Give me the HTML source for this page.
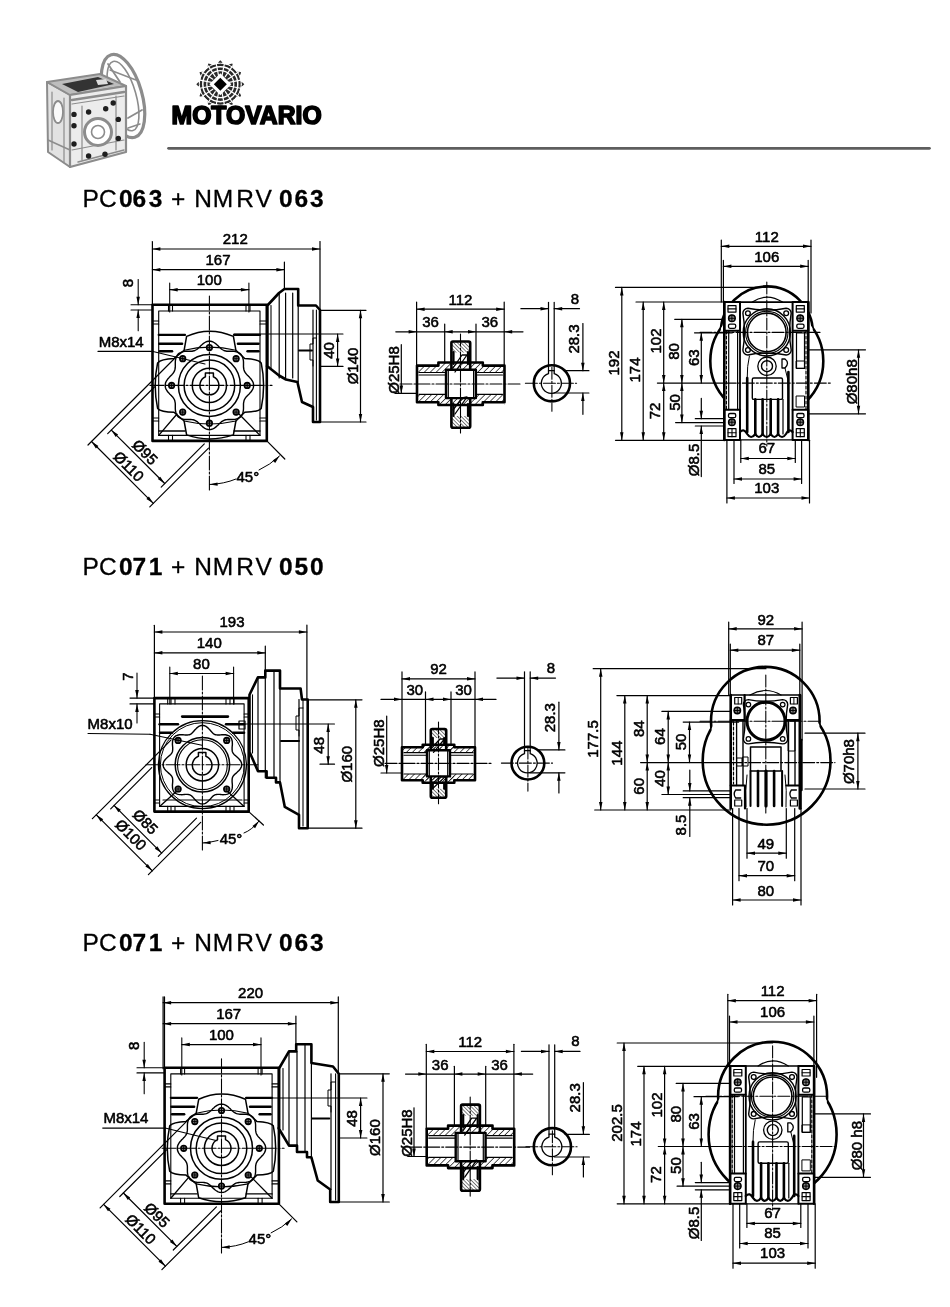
<!DOCTYPE html>
<html><head><meta charset="utf-8"><style>
html,body{margin:0;padding:0;background:#fff;}
body{width:950px;height:1307px;overflow:hidden;}
svg{display:block;will-change:transform;}
text{font-family:"Liberation Sans",sans-serif;fill:#000;stroke:#000;stroke-width:0.55px;}
</style></head><body>
<svg width="950" height="1307" viewBox="0 0 950 1307" stroke="#000" stroke-linecap="round" stroke-linejoin="round" fill="none">
<rect x="0" y="0" width="950" height="1307" fill="#fff" stroke="none"/>
<g stroke="#8c8c8c" fill="none">
<ellipse cx="123" cy="96" rx="19" ry="43" transform="rotate(-16 123 96)" stroke-width="3.2"/>
<ellipse cx="123" cy="96" rx="13" ry="36" transform="rotate(-16 123 96)" stroke-width="1.6"/>
<line x1="108" y1="64" x2="120" y2="82" stroke-width="1.8"/>
<line x1="128" y1="118" x2="142" y2="110" stroke-width="1.8"/>
<line x1="110" y1="70" x2="136" y2="80" stroke-width="1.4"/>
<line x1="128" y1="128" x2="140" y2="124" stroke-width="1.4"/>
<polygon points="47,82 70,95 70,167 48,152" stroke-width="2" fill="#e2e2e2"/>
<polygon points="47,82 100,74 126,86 70,95" stroke-width="2" fill="#bdbdbd"/>
<polygon points="70,95 126,86 126,152 70,167" stroke-width="2.2" fill="#ececec"/>
<ellipse cx="58" cy="112" rx="5" ry="11" stroke-width="1.8" fill="#fafafa"/>
<line x1="48" y1="140" x2="70" y2="150" stroke-width="1.5"/>
<line x1="72" y1="100" x2="124" y2="92" stroke-width="2.5"/>
<line x1="72" y1="104" x2="124" y2="96" stroke-width="1.2"/>
<line x1="52" y1="92" x2="52" y2="150" stroke-width="1.2"/>
<line x1="64" y1="98" x2="64" y2="162" stroke-width="1.2"/>
<circle cx="98" cy="132" r="13.5" stroke-width="3" fill="#fff"/>
<circle cx="98" cy="132" r="6.5" stroke-width="1.6" fill="none"/>
<line x1="72" y1="150" x2="124" y2="140" stroke-width="1.2"/>
<line x1="78" y1="162" x2="124" y2="150" stroke-width="1.4"/>
<line x1="82" y1="106" x2="82" y2="160" stroke-width="1.2"/>
<line x1="116" y1="96" x2="116" y2="150" stroke-width="1.2"/>
</g>
<g fill="#333" stroke="none"><path d="M62,84 L98,77 L114,84 L78,92 Z"/><path d="M96,80 L106,79 L108,84 L98,85 Z" fill="#ddd"/></g>
<circle cx="88.6" cy="112" r="2.7" stroke-width="0" fill="#1e1e1e" stroke="none"/>
<circle cx="105.7" cy="108.7" r="2.7" stroke-width="0" fill="#1e1e1e" stroke="none"/>
<circle cx="74" cy="114.4" r="2.7" stroke-width="0" fill="#1e1e1e" stroke="none"/>
<circle cx="74" cy="125.8" r="2.7" stroke-width="0" fill="#1e1e1e" stroke="none"/>
<circle cx="118.3" cy="119.4" r="2.7" stroke-width="0" fill="#1e1e1e" stroke="none"/>
<circle cx="74" cy="144" r="2.7" stroke-width="0" fill="#1e1e1e" stroke="none"/>
<circle cx="118.3" cy="138.4" r="2.7" stroke-width="0" fill="#1e1e1e" stroke="none"/>
<circle cx="88.6" cy="156" r="2.7" stroke-width="0" fill="#1e1e1e" stroke="none"/>
<circle cx="105" cy="154.2" r="2.7" stroke-width="0" fill="#1e1e1e" stroke="none"/>
<circle cx="113.2" cy="103" r="2.7" stroke-width="0" fill="#1e1e1e" stroke="none"/>
<polygon points="220.3,60.2 221.8,61.7 223,63.9 224.3,64.1 225.6,64.4 226.9,64.8 228.1,65.3 230.3,64 232.3,63.4 232.8,65.5 232.8,67.9 233.8,68.8 234.8,69.7 235.7,70.7 236.6,71.7 239,71.7 241.1,72.2 240.5,74.2 239.2,76.4 239.7,77.6 240.1,78.9 240.4,80.2 240.6,81.5 242.8,82.7 244.3,84.2 242.8,85.7 240.6,86.9 240.4,88.2 240.1,89.5 239.7,90.8 239.2,92 240.5,94.2 241.1,96.2 239,96.7 236.6,96.7 235.7,97.7 234.8,98.7 233.8,99.6 232.8,100.5 232.8,102.9 232.3,105 230.3,104.4 228.1,103.1 226.9,103.6 225.6,104 224.3,104.3 223,104.5 221.8,106.7 220.3,108.2 218.8,106.7 217.6,104.5 216.3,104.3 215,104 213.7,103.6 212.5,103.1 210.3,104.4 208.3,105 207.8,102.9 207.8,100.5 206.8,99.6 205.8,98.7 204.9,97.7 204,96.7 201.6,96.7 199.5,96.2 200.1,94.2 201.4,92 200.9,90.8 200.5,89.5 200.2,88.2 200,86.9 197.8,85.7 196.3,84.2 197.8,82.7 200,81.5 200.2,80.2 200.5,78.9 200.9,77.6 201.4,76.4 200.1,74.2 199.5,72.2 201.6,71.7 204,71.7 204.9,70.7 205.8,69.7 206.8,68.8 207.8,67.9 207.8,65.5 208.3,63.4 210.3,64 212.5,65.3 213.7,64.8 215,64.4 216.3,64.1 217.6,63.9 218.8,61.7" stroke-width="0" fill="#2a2a2a" stroke="none"/>
<g stroke="#fff" fill="none">
<circle cx="220.3" cy="84.2" r="17.5" stroke-width="1.5" fill="none"/>
<circle cx="220.3" cy="84.2" r="13.5" stroke-width="1.3" fill="none"/>
<circle cx="220.3" cy="84.2" r="21" stroke-width="1.0" fill="none"/>
<line x1="229.1" y1="86" x2="241.9" y2="88.5" stroke-width="1.2"/>
<line x1="227.8" y1="89.2" x2="238.6" y2="96.4" stroke-width="1.2"/>
<line x1="225.3" y1="91.7" x2="232.5" y2="102.5" stroke-width="1.2"/>
<line x1="222.1" y1="93" x2="224.6" y2="105.8" stroke-width="1.2"/>
<line x1="218.5" y1="93" x2="216" y2="105.8" stroke-width="1.2"/>
<line x1="215.3" y1="91.7" x2="208.1" y2="102.5" stroke-width="1.2"/>
<line x1="212.8" y1="89.2" x2="202" y2="96.4" stroke-width="1.2"/>
<line x1="211.5" y1="86" x2="198.7" y2="88.5" stroke-width="1.2"/>
<line x1="211.5" y1="82.4" x2="198.7" y2="79.9" stroke-width="1.2"/>
<line x1="212.8" y1="79.2" x2="202" y2="72" stroke-width="1.2"/>
<line x1="215.3" y1="76.7" x2="208.1" y2="65.9" stroke-width="1.2"/>
<line x1="218.5" y1="75.4" x2="216" y2="62.6" stroke-width="1.2"/>
<line x1="222.1" y1="75.4" x2="224.6" y2="62.6" stroke-width="1.2"/>
<line x1="225.3" y1="76.7" x2="232.5" y2="65.9" stroke-width="1.2"/>
<line x1="227.8" y1="79.2" x2="238.6" y2="72" stroke-width="1.2"/>
<line x1="229.1" y1="82.4" x2="241.9" y2="79.9" stroke-width="1.2"/>
</g>
<polygon points="220.3,73.2 231.3,84.2 220.3,95.2 209.3,84.2" stroke-width="0" fill="#fff" stroke="none"/>
<polygon points="220.3,77.7 226.8,84.2 220.3,90.7 213.8,84.2" stroke-width="0" fill="#000" stroke="none"/>
<text x="171.6" y="123.6" font-size="25" text-anchor="start" font-weight="bold" style="stroke-width:1.7px" textLength="150" lengthAdjust="spacingAndGlyphs">MOTOVARIO</text>
<line x1="168.5" y1="148.3" x2="929.5" y2="148.3" stroke-width="2.7" stroke="#5e5e5e"/>
<text y="206.8" font-size="24.5" style="stroke-width:0.3px"><tspan x="82.6 99.1">PC</tspan><tspan x="118.9 132.6 148.8" font-weight="bold">063</tspan><tspan x="170.9">+</tspan><tspan x="194.2 212.8 236.3 255.5">NMRV</tspan><tspan x="279 294.5 310.1" font-weight="bold">063</tspan></text>
<text y="574.5" font-size="24.5" style="stroke-width:0.3px"><tspan x="82.6 99.1">PC</tspan><tspan x="118.9 132.6 148.8" font-weight="bold">071</tspan><tspan x="170.9">+</tspan><tspan x="194.2 212.8 236.3 255.5">NMRV</tspan><tspan x="279 294.5 310.1" font-weight="bold">050</tspan></text>
<text y="951.0" font-size="24.5" style="stroke-width:0.3px"><tspan x="82.6 99.1">PC</tspan><tspan x="118.9 132.6 148.8" font-weight="bold">071</tspan><tspan x="170.9">+</tspan><tspan x="194.2 212.8 236.3 255.5">NMRV</tspan><tspan x="279 294.5 310.1" font-weight="bold">063</tspan></text>
<g transform="translate(0,0)">
<rect x="152.5" y="304.8" width="114.3" height="136.1" stroke-width="2.6" fill="none" rx="0"/>
<rect x="158.7" y="311" width="101.3" height="124.4" stroke-width="1.1" fill="none" rx="0"/>
<line x1="168.5" y1="304.8" x2="168.5" y2="311" stroke-width="1.08"/>
<line x1="168.5" y1="435.4" x2="168.5" y2="440.9" stroke-width="1.08"/>
<line x1="172.5" y1="304.8" x2="172.5" y2="311" stroke-width="1.08"/>
<line x1="172.5" y1="435.4" x2="172.5" y2="440.9" stroke-width="1.08"/>
<line x1="246" y1="304.8" x2="246" y2="311" stroke-width="1.08"/>
<line x1="246" y1="435.4" x2="246" y2="440.9" stroke-width="1.08"/>
<line x1="250" y1="304.8" x2="250" y2="311" stroke-width="1.08"/>
<line x1="250" y1="435.4" x2="250" y2="440.9" stroke-width="1.08"/>
<line x1="152.5" y1="321" x2="158.7" y2="321" stroke-width="1.08"/>
<line x1="152.5" y1="324" x2="158.7" y2="324" stroke-width="1.08"/>
<line x1="260" y1="321" x2="266.8" y2="321" stroke-width="1.08"/>
<line x1="260" y1="324" x2="266.8" y2="324" stroke-width="1.08"/>
<line x1="152.5" y1="418" x2="158.7" y2="418" stroke-width="1.08"/>
<line x1="152.5" y1="421" x2="158.7" y2="421" stroke-width="1.08"/>
<line x1="260" y1="418" x2="266.8" y2="418" stroke-width="1.08"/>
<line x1="260" y1="421" x2="266.8" y2="421" stroke-width="1.08"/>
<line x1="158.7" y1="334.9" x2="185" y2="334.9" stroke-width="2.2"/>
<line x1="234" y1="334.9" x2="260" y2="334.9" stroke-width="2.2"/>
<line x1="159.4" y1="343.8" x2="182" y2="343.8" stroke-width="2.6"/>
<line x1="238" y1="343.8" x2="258.5" y2="343.8" stroke-width="2.6"/>
<line x1="160" y1="351.3" x2="172" y2="351.3" stroke-width="2.6"/>
<line x1="247.6" y1="351.3" x2="258.5" y2="351.3" stroke-width="2.6"/>
<line x1="158.7" y1="431" x2="185" y2="431" stroke-width="1.32"/>
<line x1="234" y1="431" x2="260" y2="431" stroke-width="1.32"/>
<line x1="158.7" y1="435.4" x2="177" y2="414" stroke-width="1.32"/>
<line x1="260" y1="435.4" x2="239" y2="414" stroke-width="1.32"/>
<line x1="158.7" y1="311" x2="172" y2="355" stroke-width="0"/>
<path d="M184.1,350.3 L186.6,336.4 Q209.4,326 233.4,336.4 L235.9,350.3 L244.7,358.5 Q258,359 261.2,362.9 Q266,385.4 261.2,408.4 Q258,412 244.7,412.2 L235.9,421 L233.4,434.9 Q209.4,443 186.6,434.9 L184.1,421 L174,412.2 Q161,412 157.6,408.4 Q152.8,385.4 157.6,362.9 Q161,359 174,358.5 Z" stroke-width="1.5" fill="none"/>
<path d="M184.1,350.3 Q209.4,344 235.9,350.3" stroke-width="1.1" fill="none"/>
<path d="M184.1,421 Q209.4,427 235.9,421" stroke-width="1.1" fill="none"/>
<path d="M253.6,385.4 L253.5,386.6 L253.3,387.7 L252.9,388.8 L252.3,389.9 L251.6,391 L250.9,392 L250,392.9 L249.2,393.9 L248.3,394.7 L247.5,395.6 L246.7,396.4 L245.9,397.3 L245.3,398.1 L244.8,399 L244.3,399.9 L244,400.8 L243.8,401.8 L243.6,402.8 L243.5,403.9 L243.5,405.1 L243.5,406.3 L243.5,407.5 L243.5,408.8 L243.4,410.1 L243.2,411.3 L242.9,412.5 L242.5,413.7 L242,414.8 L241.4,415.8 L240.7,416.7 L239.8,417.4 L238.8,418 L237.7,418.5 L236.5,418.9 L235.3,419.2 L234.1,419.4 L232.8,419.5 L231.5,419.5 L230.3,419.5 L229.1,419.5 L227.9,419.5 L226.8,419.6 L225.8,419.8 L224.8,420 L223.9,420.3 L223,420.8 L222.1,421.3 L221.3,421.9 L220.4,422.7 L219.6,423.5 L218.7,424.3 L217.9,425.2 L216.9,426 L216,426.9 L215,427.6 L213.9,428.3 L212.8,428.9 L211.7,429.3 L210.6,429.5 L209.4,429.6 L208.2,429.5 L207.1,429.3 L206,428.9 L204.9,428.3 L203.8,427.6 L202.8,426.9 L201.9,426 L200.9,425.2 L200.1,424.3 L199.2,423.5 L198.4,422.7 L197.5,421.9 L196.7,421.3 L195.8,420.8 L194.9,420.3 L194,420 L193,419.8 L192,419.6 L190.9,419.5 L189.7,419.5 L188.5,419.5 L187.3,419.5 L186,419.5 L184.7,419.4 L183.5,419.2 L182.3,418.9 L181.1,418.5 L180,418 L179,417.4 L178.1,416.7 L177.4,415.8 L176.8,414.8 L176.3,413.7 L175.9,412.5 L175.6,411.3 L175.4,410.1 L175.3,408.8 L175.3,407.5 L175.3,406.3 L175.3,405.1 L175.3,403.9 L175.2,402.8 L175,401.8 L174.8,400.8 L174.5,399.9 L174,399 L173.5,398.1 L172.9,397.3 L172.1,396.4 L171.3,395.6 L170.5,394.7 L169.6,393.9 L168.8,392.9 L167.9,392 L167.2,391 L166.5,389.9 L165.9,388.8 L165.5,387.7 L165.3,386.6 L165.2,385.4 L165.3,384.2 L165.5,383.1 L165.9,382 L166.5,380.9 L167.2,379.8 L167.9,378.8 L168.8,377.9 L169.6,376.9 L170.5,376.1 L171.3,375.2 L172.1,374.4 L172.9,373.5 L173.5,372.7 L174,371.8 L174.5,370.9 L174.8,370 L175,369 L175.2,368 L175.3,366.9 L175.3,365.7 L175.3,364.5 L175.3,363.3 L175.3,362 L175.4,360.7 L175.6,359.5 L175.9,358.3 L176.3,357.1 L176.8,356 L177.4,355 L178.1,354.1 L179,353.4 L180,352.8 L181.1,352.3 L182.3,351.9 L183.5,351.6 L184.7,351.4 L186,351.3 L187.3,351.3 L188.5,351.3 L189.7,351.3 L190.9,351.3 L192,351.2 L193,351 L194,350.8 L194.9,350.5 L195.8,350 L196.7,349.5 L197.5,348.9 L198.4,348.1 L199.2,347.3 L200.1,346.5 L200.9,345.6 L201.9,344.8 L202.8,343.9 L203.8,343.2 L204.9,342.5 L206,341.9 L207.1,341.5 L208.2,341.3 L209.4,341.2 L210.6,341.3 L211.7,341.5 L212.8,341.9 L213.9,342.5 L215,343.2 L216,343.9 L216.9,344.8 L217.9,345.6 L218.7,346.5 L219.6,347.3 L220.4,348.1 L221.3,348.9 L222.1,349.5 L223,350 L223.9,350.5 L224.8,350.8 L225.8,351 L226.8,351.2 L227.9,351.3 L229.1,351.3 L230.3,351.3 L231.5,351.3 L232.8,351.3 L234.1,351.4 L235.3,351.6 L236.5,351.9 L237.7,352.3 L238.8,352.8 L239.8,353.4 L240.7,354.1 L241.4,355 L242,356 L242.5,357.1 L242.9,358.3 L243.2,359.5 L243.4,360.7 L243.5,362 L243.5,363.3 L243.5,364.5 L243.5,365.7 L243.5,366.9 L243.6,368 L243.8,369 L244,370 L244.3,370.9 L244.8,371.8 L245.3,372.7 L245.9,373.5 L246.7,374.4 L247.5,375.2 L248.3,376.1 L249.2,376.9 L250,377.9 L250.9,378.8 L251.6,379.8 L252.3,380.9 L252.9,382 L253.3,383.1 L253.5,384.2 L253.6,385.4Z" stroke-width="1.4" fill="none"/>
<circle cx="209.4" cy="385.4" r="31" stroke-width="1.5" fill="none"/>
<circle cx="209.4" cy="385.4" r="25.3" stroke-width="1.5" fill="none"/>
<circle cx="209.4" cy="385.4" r="17.1" stroke-width="1.5" fill="none"/>
<path d="M205.4,376.7 L205.4,373 L213.4,373 L213.4,376.7 A9.5,9.5 0 1 1 205.4,376.7 Z" stroke-width="1.5" fill="none"/>
<circle cx="247.2" cy="385.4" r="2.8" stroke-width="1.625" fill="#888"/>
<line x1="244.4" y1="385.4" x2="250" y2="385.4" stroke-width="0.96"/>
<line x1="247.2" y1="382.6" x2="247.2" y2="388.2" stroke-width="0.96"/>
<circle cx="236.1" cy="412.1" r="2.8" stroke-width="1.625" fill="#888"/>
<line x1="233.3" y1="412.1" x2="238.9" y2="412.1" stroke-width="0.96"/>
<line x1="236.1" y1="409.3" x2="236.1" y2="414.9" stroke-width="0.96"/>
<circle cx="209.4" cy="423.2" r="2.8" stroke-width="1.625" fill="#888"/>
<line x1="206.6" y1="423.2" x2="212.2" y2="423.2" stroke-width="0.96"/>
<line x1="209.4" y1="420.4" x2="209.4" y2="426" stroke-width="0.96"/>
<circle cx="182.7" cy="412.1" r="2.8" stroke-width="1.625" fill="#888"/>
<line x1="179.9" y1="412.1" x2="185.5" y2="412.1" stroke-width="0.96"/>
<line x1="182.7" y1="409.3" x2="182.7" y2="414.9" stroke-width="0.96"/>
<circle cx="171.6" cy="385.4" r="2.8" stroke-width="1.625" fill="#888"/>
<line x1="168.8" y1="385.4" x2="174.4" y2="385.4" stroke-width="0.96"/>
<line x1="171.6" y1="382.6" x2="171.6" y2="388.2" stroke-width="0.96"/>
<circle cx="182.7" cy="358.7" r="2.8" stroke-width="1.625" fill="#888"/>
<line x1="179.9" y1="358.7" x2="185.5" y2="358.7" stroke-width="0.96"/>
<line x1="182.7" y1="355.9" x2="182.7" y2="361.5" stroke-width="0.96"/>
<circle cx="209.4" cy="347.6" r="2.8" stroke-width="1.625" fill="#888"/>
<line x1="206.6" y1="347.6" x2="212.2" y2="347.6" stroke-width="0.96"/>
<line x1="209.4" y1="344.8" x2="209.4" y2="350.4" stroke-width="0.96"/>
<circle cx="236.1" cy="358.7" r="2.8" stroke-width="1.625" fill="#888"/>
<line x1="233.3" y1="358.7" x2="238.9" y2="358.7" stroke-width="0.96"/>
<line x1="236.1" y1="355.9" x2="236.1" y2="361.5" stroke-width="0.96"/>
<line x1="209.4" y1="296" x2="209.4" y2="491" stroke-width="1.08" stroke-dasharray="14,2,2,2"/>
<line x1="150" y1="385.4" x2="272" y2="385.4" stroke-width="1.08" stroke-dasharray="14,2,2,2"/>
<line x1="175" y1="358" x2="88" y2="445" stroke-width="1.2"/>
<line x1="154.4" y1="387" x2="107.7" y2="433.6" stroke-width="1.2"/>
<line x1="208.5" y1="448.1" x2="149.8" y2="506.8" stroke-width="1.2"/>
<line x1="204.3" y1="443.9" x2="161.2" y2="487.1" stroke-width="1.2"/>
<line x1="91.5" y1="441.5" x2="153.3" y2="503.3" stroke-width="1.2"/>
<polygon points="91.5,441.5 98.4,445.9 95.9,448.4" fill="#000" stroke="none"/>
<polygon points="153.3,503.3 146.4,498.9 148.9,496.4" fill="#000" stroke="none"/>
<line x1="111.3" y1="430.1" x2="164.7" y2="483.5" stroke-width="1.2"/>
<polygon points="111.3,430.1 118.1,434.5 115.7,437" fill="#000" stroke="none"/>
<polygon points="164.7,483.5 157.8,479.1 160.3,476.7" fill="#000" stroke="none"/>
<text transform="translate(128.8,466.2) rotate(45)" x="0" y="5.4" font-size="15" text-anchor="middle">Ø110</text>
<text transform="translate(145.1,452) rotate(45)" x="0" y="5.4" font-size="15" text-anchor="middle">Ø95</text>
<line x1="266.8" y1="440.9" x2="284.8" y2="459" stroke-width="1.2"/>
<path d="M209.4,484.5 Q224,484 236,479" stroke-width="1.0" fill="none"/>
<path d="M259,470 Q270,465 279.5,456" stroke-width="1.0" fill="none"/>
<polygon points="209.6,484.5 217.5,482.4 217.7,485.8" fill="#000" stroke="none"/>
<polygon points="279.5,456 275.2,463 272.7,460.5" fill="#000" stroke="none"/>
<text x="247.8" y="481.5" font-size="15" text-anchor="middle" font-weight="normal">45°</text>
<line x1="152.4" y1="241.6" x2="152.4" y2="304.8" stroke-width="1.2"/>
<line x1="169.7" y1="283" x2="169.7" y2="312" stroke-width="1.08"/>
<line x1="248.9" y1="283" x2="248.9" y2="312" stroke-width="1.08"/>
<line x1="169.7" y1="289.7" x2="248.9" y2="289.7" stroke-width="1.2"/>
<polygon points="169.7,289.7 177.7,287.9 177.7,291.4" fill="#000" stroke="none"/>
<polygon points="248.9,289.7 240.9,291.4 240.9,287.9" fill="#000" stroke="none"/>
<text x="209.3" y="285" font-size="15" text-anchor="middle" font-weight="normal">100</text>
<line x1="131" y1="304.8" x2="152.5" y2="304.8" stroke-width="1.08"/>
<line x1="131" y1="310" x2="152.5" y2="310" stroke-width="1.08"/>
<line x1="138.2" y1="279.5" x2="138.2" y2="304.8" stroke-width="1.08"/>
<polygon points="138.2,304.8 136.4,296.8 139.9,296.8" fill="#000" stroke="none"/>
<line x1="138.2" y1="310" x2="138.2" y2="330.8" stroke-width="1.08"/>
<polygon points="138.2,310 139.9,318 136.4,318" fill="#000" stroke="none"/>
<text transform="translate(128,283) rotate(-90)" x="0" y="5.4" font-size="15" text-anchor="middle">8</text>
<text x="98.7" y="346.6" font-size="15" text-anchor="start" font-weight="normal">M8x14</text>
<line x1="98" y1="351.4" x2="153" y2="351.4" stroke-width="1.08"/>
<line x1="153" y1="351.4" x2="205" y2="364" stroke-width="1.08"/>
</g>
<polyline points="267,366 279,375.5 286,379.5 297.4,382 302,402 313,407 313,422 320,422 320,310 316,305.5 298.2,305.5 298.2,289 284.4,289 279,293 267.4,305.5 267.4,366" stroke-width="2.6" fill="none"/>
<line x1="279.2" y1="293" x2="279.2" y2="378" stroke-width="1.2"/>
<line x1="285.6" y1="293" x2="285.6" y2="378" stroke-width="1.2"/>
<line x1="292.7" y1="293" x2="292.7" y2="378" stroke-width="1.2"/>
<line x1="298.2" y1="305.5" x2="298.2" y2="382" stroke-width="1.2"/>
<line x1="313" y1="310" x2="313" y2="407" stroke-width="1.2"/>
<line x1="316.4" y1="310" x2="316.4" y2="420" stroke-width="1.08"/>
<line x1="271" y1="305.5" x2="271" y2="368" stroke-width="1.08"/>
<line x1="234" y1="334" x2="343" y2="334" stroke-width="1.08"/>
<line x1="299" y1="350.6" x2="312" y2="350.6" stroke-width="2.0"/>
<polyline points="316.4,338 313,338 313,344 310,344 310,360 313,360 313,366" stroke-width="1.0" fill="none"/>
<line x1="320" y1="241.6" x2="320" y2="310" stroke-width="1.2"/>
<line x1="152.4" y1="249" x2="320" y2="249" stroke-width="1.2"/>
<polygon points="152.4,249 160.4,247.2 160.4,250.8" fill="#000" stroke="none"/>
<polygon points="320,249 312,250.8 312,247.2" fill="#000" stroke="none"/>
<text x="235.3" y="244.4" font-size="15" text-anchor="middle" font-weight="normal">212</text>
<line x1="284.4" y1="262" x2="284.4" y2="289" stroke-width="1.2"/>
<line x1="152.4" y1="269.7" x2="284.4" y2="269.7" stroke-width="1.2"/>
<polygon points="152.4,269.7 160.4,267.9 160.4,271.4" fill="#000" stroke="none"/>
<polygon points="284.4,269.7 276.4,271.4 276.4,267.9" fill="#000" stroke="none"/>
<text x="218" y="264.6" font-size="15" text-anchor="middle" font-weight="normal">167</text>
<line x1="320" y1="310.3" x2="366" y2="310.3" stroke-width="1.2"/>
<line x1="320" y1="422" x2="366" y2="422" stroke-width="1.2"/>
<line x1="360.5" y1="310.3" x2="360.5" y2="422" stroke-width="1.2"/>
<polygon points="360.5,310.3 362.2,318.3 358.8,318.3" fill="#000" stroke="none"/>
<polygon points="360.5,422 358.8,414 362.2,414" fill="#000" stroke="none"/>
<text transform="translate(352.7,366) rotate(-90)" x="0" y="5.4" font-size="15" text-anchor="middle">Ø140</text>
<line x1="320" y1="366.4" x2="343" y2="366.4" stroke-width="1.2"/>
<line x1="337.6" y1="334" x2="337.6" y2="366.4" stroke-width="1.2"/>
<polygon points="337.6,334 339.4,342 335.9,342" fill="#000" stroke="none"/>
<polygon points="337.6,366.4 335.9,358.4 339.4,358.4" fill="#000" stroke="none"/>
<text transform="translate(329,350.5) rotate(-90)" x="0" y="5.4" font-size="15" text-anchor="middle">40</text>
<defs>
<pattern id="h1" patternUnits="userSpaceOnUse" width="4.2" height="4.2" patternTransform="rotate(45)"><line x1="0" y1="0" x2="0" y2="4.2" stroke="#000" stroke-width="1.3"/></pattern>
<pattern id="h2" patternUnits="userSpaceOnUse" width="2.6" height="2.6" patternTransform="rotate(-45)"><line x1="0" y1="0" x2="0" y2="2.6" stroke="#000" stroke-width="1.0"/></pattern>
</defs>
<rect x="451.4" y="341.5" width="18.8" height="11" fill="url(#h2)" stroke="none"/>
<rect x="451.4" y="416" width="18.8" height="11" fill="url(#h2)" stroke="none"/>
<rect x="451.4" y="341.5" width="18.8" height="86.2" stroke-width="2.6" fill="none" rx="1.5"/>
<line x1="453.5" y1="352" x2="453.5" y2="364" stroke-width="2.2"/>
<line x1="468" y1="352" x2="468" y2="364" stroke-width="2.2"/>
<line x1="453.5" y1="404" x2="453.5" y2="416" stroke-width="2.2"/>
<line x1="468" y1="404" x2="468" y2="416" stroke-width="2.2"/>
<rect x="417" y="362.5" width="87.5" height="42.5" fill="url(#h1)" stroke="none"/>
<rect x="417" y="372.5" width="87.5" height="21.8" stroke-width="0" fill="#fff" rx="0" stroke="none"/>
<rect x="417" y="356" width="21.4" height="9.6" fill="#fff" stroke="none"/>
<rect x="482.8" y="356" width="21.7" height="9.6" fill="#fff" stroke="none"/>
<rect x="417" y="402.3" width="21.4" height="9" fill="#fff" stroke="none"/>
<rect x="482.8" y="402.3" width="21.7" height="9" fill="#fff" stroke="none"/>
<polygon points="438.4,365.6 417,365.6 417,402.3 438.4,402.3 438.4,405 482.8,405 482.8,402.3 504.5,402.3 504.5,365.6 482.8,365.6 482.8,362.5 438.4,362.5" stroke-width="2.6" fill="none"/>
<line x1="419" y1="372.5" x2="502.5" y2="372.5" stroke-width="1.2"/>
<line x1="419" y1="394.3" x2="502.5" y2="394.3" stroke-width="1.2"/>
<line x1="419" y1="375" x2="446" y2="375" stroke-width="1.08"/>
<line x1="475" y1="375" x2="502.5" y2="375" stroke-width="1.08"/>
<rect x="446" y="369.8" width="29.9" height="28.3" stroke-width="2.4" fill="#fff" rx="0"/>
<line x1="448.3" y1="371" x2="448.3" y2="397" stroke-width="1.2"/>
<line x1="473.6" y1="371" x2="473.6" y2="397" stroke-width="1.2"/>
<path d="M455,372 L467,355 L462,355 L453,368" stroke-width="1.3" fill="none"/>
<path d="M455,414 L467,397 L462,398 L453,410" stroke-width="1.3" fill="none"/>
<line x1="400" y1="384" x2="520" y2="384" stroke-width="1.08" stroke-dasharray="12,2,2,2"/>
<line x1="460.5" y1="334" x2="460.5" y2="433" stroke-width="1.08" stroke-dasharray="12,2,2,2"/>
<line x1="416.6" y1="302" x2="416.6" y2="366" stroke-width="1.2"/>
<line x1="504.2" y1="302" x2="504.2" y2="366" stroke-width="1.2"/>
<line x1="416.6" y1="309.2" x2="504.2" y2="309.2" stroke-width="1.2"/>
<polygon points="416.6,309.2 424.6,307.4 424.6,310.9" fill="#000" stroke="none"/>
<polygon points="504.2,309.2 496.2,310.9 496.2,307.4" fill="#000" stroke="none"/>
<text x="460.5" y="304.5" font-size="15" text-anchor="middle" font-weight="normal">112</text>
<line x1="444.7" y1="324" x2="444.7" y2="363" stroke-width="1.2"/>
<line x1="476" y1="324" x2="476" y2="363" stroke-width="1.2"/>
<line x1="395.8" y1="331.8" x2="523" y2="331.8" stroke-width="1.2"/>
<polygon points="416.6,331.8 408.6,333.6 408.6,330.1" fill="#000" stroke="none"/>
<polygon points="444.7,331.8 452.7,330.1 452.7,333.6" fill="#000" stroke="none"/>
<polygon points="476,331.8 468,333.6 468,330.1" fill="#000" stroke="none"/>
<polygon points="504.2,331.8 512.2,330.1 512.2,333.6" fill="#000" stroke="none"/>
<text x="430.5" y="327.4" font-size="15" text-anchor="middle" font-weight="normal">36</text>
<text x="489.8" y="327.4" font-size="15" text-anchor="middle" font-weight="normal">36</text>
<line x1="395" y1="393.4" x2="416.6" y2="393.4" stroke-width="1.2"/>
<line x1="401.3" y1="344.7" x2="401.3" y2="393.4" stroke-width="1.2"/>
<polygon points="401.3,393.4 399.6,385.4 403.1,385.4" fill="#000" stroke="none"/>
<text transform="translate(393.4,370) rotate(-90)" x="0" y="5.4" font-size="15" text-anchor="middle">Ø25H8</text>
<circle cx="551.9" cy="383.3" r="18.1" stroke-width="2.6" fill="none"/>
<path d="M548.5,373.7 L548.5,370.7 L554.2,370.7 L554.2,373.7 A10,10 0 1 1 548.5,373.7" stroke-width="1.3" fill="none"/>
<line x1="548.5" y1="302.4" x2="548.5" y2="370.7" stroke-width="1.2"/>
<line x1="554.2" y1="302.4" x2="554.2" y2="370.7" stroke-width="1.2"/>
<line x1="525.4" y1="383.3" x2="576.6" y2="383.3" stroke-width="1.08" stroke-dasharray="12,2,2,2"/>
<line x1="551.9" y1="367.3" x2="551.9" y2="411.3" stroke-width="1.08" stroke-dasharray="12,2,2,2"/>
<line x1="520.9" y1="308.7" x2="548.5" y2="308.7" stroke-width="1.2"/>
<line x1="554.2" y1="308.7" x2="579.5" y2="308.7" stroke-width="1.2"/>
<polygon points="548.5,308.7 540.5,310.4 540.5,306.9" fill="#000" stroke="none"/>
<polygon points="554.2,308.7 562.2,306.9 562.2,310.4" fill="#000" stroke="none"/>
<text x="574.9" y="303.5" font-size="15" text-anchor="middle" font-weight="normal">8</text>
<line x1="564" y1="370.7" x2="588.9" y2="370.7" stroke-width="1.2"/>
<line x1="553.9" y1="393" x2="588.9" y2="393" stroke-width="1.2"/>
<line x1="582.9" y1="323.6" x2="582.9" y2="370.7" stroke-width="1.2"/>
<polygon points="582.9,370.7 581.1,362.7 584.6,362.7" fill="#000" stroke="none"/>
<line x1="582.9" y1="393" x2="582.9" y2="414.3" stroke-width="1.2"/>
<polygon points="582.9,393 584.6,401 581.1,401" fill="#000" stroke="none"/>
<text transform="translate(573.7,339) rotate(-90)" x="0" y="5.4" font-size="15" text-anchor="middle">28.3</text>
<g transform="translate(0,0)">
<clipPath id="cf1b"><path d="M0,0 H950 V1307 H0 Z M724.3,302.1 V439.9 H808.3 V302.1 Z" clip-rule="evenodd"/></clipPath>
<clipPath id="cf11"><path d="M0,0 H950 V1307 H0 Z M710.3,361 a56.5,56.5 0 1,0 113,0 a56.5,56.5 0 1,0 -113,0 Z" clip-rule="evenodd"/></clipPath>
<clipPath id="cf12"><path d="M0,0 H950 V1307 H0 Z M720.8,332.4 a46,46 0 1,0 92,0 a46,46 0 1,0 -92,0 Z" clip-rule="evenodd"/></clipPath>
<g clip-path="url(#cf1b)">
<g clip-path="url(#cf11)">
<circle cx="766.8" cy="332.4" r="46" stroke-width="2.6" fill="none"/>
</g>
<g clip-path="url(#cf12)">
<circle cx="766.8" cy="361" r="56.5" stroke-width="2.6" fill="none"/>
</g>
</g>
<path d="M752.3,302.1 Q766.8,292 782.5,302.1" stroke-width="1.2" fill="none"/>
<line x1="724.3" y1="302.1" x2="724.3" y2="439.9" stroke-width="2.6"/>
<line x1="808.3" y1="302.1" x2="808.3" y2="439.9" stroke-width="2.6"/>
<line x1="724.3" y1="302.1" x2="808.3" y2="302.1" stroke-width="1.6"/>
<rect x="724.3" y="302.1" width="15.7" height="28.7" stroke-width="2.0" fill="none" rx="0"/>
<rect x="728" y="305.6" width="8" height="6.5" stroke-width="1.2" fill="none" rx="0"/>
<line x1="728" y1="308.9" x2="736" y2="308.9" stroke-width="1.08"/>
<circle cx="731.9" cy="318.3" r="3.3" stroke-width="1.5" fill="#888"/>
<line x1="728.6" y1="318.3" x2="735.2" y2="318.3" stroke-width="0.96"/>
<line x1="731.9" y1="315" x2="731.9" y2="321.6" stroke-width="0.96"/>
<rect x="728.5" y="324.1" width="7.2" height="4.2" stroke-width="1.3" fill="none" rx="1.5"/>
<rect x="724.3" y="409.7" width="15.7" height="30.2" stroke-width="2.0" fill="none" rx="0"/>
<rect x="728.5" y="413.5" width="7.2" height="4.2" stroke-width="1.3" fill="none" rx="1.5"/>
<circle cx="731.9" cy="422.2" r="3.3" stroke-width="1.5" fill="#888"/>
<line x1="728.6" y1="422.2" x2="735.2" y2="422.2" stroke-width="0.96"/>
<line x1="731.9" y1="418.9" x2="731.9" y2="425.5" stroke-width="0.96"/>
<rect x="728" y="428.7" width="8" height="8" stroke-width="1.2" fill="none" rx="0"/>
<line x1="732" y1="428.7" x2="732" y2="436.7" stroke-width="1.08"/>
<line x1="728" y1="432.7" x2="736" y2="432.7" stroke-width="1.08"/>
<rect x="792.6" y="302.1" width="15.7" height="28.7" stroke-width="2.0" fill="none" rx="0"/>
<rect x="796.3" y="305.6" width="8" height="6.5" stroke-width="1.2" fill="none" rx="0"/>
<line x1="796.3" y1="308.9" x2="804.3" y2="308.9" stroke-width="1.08"/>
<circle cx="800.2" cy="318.3" r="3.3" stroke-width="1.5" fill="#888"/>
<line x1="796.9" y1="318.3" x2="803.5" y2="318.3" stroke-width="0.96"/>
<line x1="800.2" y1="315" x2="800.2" y2="321.6" stroke-width="0.96"/>
<rect x="796.8" y="324.1" width="7.2" height="4.2" stroke-width="1.3" fill="none" rx="1.5"/>
<rect x="792.6" y="409.7" width="15.7" height="30.2" stroke-width="2.0" fill="none" rx="0"/>
<rect x="796.8" y="413.5" width="7.2" height="4.2" stroke-width="1.3" fill="none" rx="1.5"/>
<circle cx="800.2" cy="422.2" r="3.3" stroke-width="1.5" fill="#888"/>
<line x1="796.9" y1="422.2" x2="803.5" y2="422.2" stroke-width="0.96"/>
<line x1="800.2" y1="418.9" x2="800.2" y2="425.5" stroke-width="0.96"/>
<rect x="796.3" y="428.7" width="8" height="8" stroke-width="1.2" fill="none" rx="0"/>
<line x1="800.3" y1="428.7" x2="800.3" y2="436.7" stroke-width="1.08"/>
<line x1="796.3" y1="432.7" x2="804.3" y2="432.7" stroke-width="1.08"/>
<line x1="728.7" y1="331" x2="728.7" y2="409.7" stroke-width="1.2"/>
<line x1="737.6" y1="331" x2="737.6" y2="409.7" stroke-width="1.2"/>
<line x1="740" y1="331" x2="740" y2="409.7" stroke-width="1.8"/>
<line x1="726.4" y1="331" x2="726.4" y2="409.7" stroke-width="1.2" stroke-dasharray="3,2"/>
<line x1="792.6" y1="331" x2="792.6" y2="409.7" stroke-width="1.8"/>
<line x1="806" y1="331" x2="806" y2="409.7" stroke-width="1.2" stroke-dasharray="3,2"/>
<rect x="796.5" y="333" width="8" height="35.4" stroke-width="1.2" fill="none" rx="0"/>
<rect x="796.5" y="361" width="8" height="7.4" stroke-width="1.0" fill="none" rx="0"/>
<rect x="796.5" y="396" width="8" height="11" stroke-width="1.0" fill="none" rx="0"/>
<path d="M742.9,313.2 A5,5 0 0 1 747.9,308.2 Q766.8,312 786.2,308.2 A5,5 0 0 1 791.2,313.2 Q788,331.6 791.2,350 A5,5 0 0 1 786.2,355 Q766.8,351 747.9,355 A5,5 0 0 1 742.9,350 Q746,331.6 742.9,313.2 Z" stroke-width="1.4" fill="none"/>
<circle cx="747.9" cy="313.2" r="2.4" stroke-width="1.3" fill="none"/>
<circle cx="747.9" cy="350" r="2.4" stroke-width="1.3" fill="none"/>
<circle cx="786.2" cy="313.2" r="2.4" stroke-width="1.3" fill="none"/>
<circle cx="786.2" cy="350" r="2.4" stroke-width="1.3" fill="none"/>
<circle cx="766.8" cy="332.4" r="23.6" stroke-width="1.4" fill="none"/>
<circle cx="766.8" cy="332.4" r="21.2" stroke-width="1.1" fill="none"/>
<circle cx="766.8" cy="332.4" r="19.3" stroke-width="1.6" fill="none"/>
<circle cx="767" cy="366.2" r="9.2" stroke-width="1.3" fill="none"/>
<circle cx="767" cy="366.2" r="5.5" stroke-width="1.4" fill="none"/>
<path d="M782,359 L785,359 Q790,363 785,368 L782,368 Z" stroke-width="1.3" fill="none"/>
<rect x="752.3" y="378" width="30.2" height="21.4" stroke-width="1.4" fill="none" rx="1.5"/>
<line x1="747.2" y1="378" x2="747.2" y2="432" stroke-width="2.6"/>
<line x1="788.4" y1="372" x2="788.4" y2="432" stroke-width="2.6"/>
<path d="M749.4,356 Q747,366 747.2,378" stroke-width="1.0" fill="none"/>
<path d="M785,368 Q789,380 788.4,390" stroke-width="1.0" fill="none"/>
<line x1="755.3" y1="399.4" x2="755.3" y2="434" stroke-width="2.6"/>
<line x1="762.6" y1="399.4" x2="762.6" y2="434" stroke-width="2.6"/>
<line x1="770.7" y1="399.4" x2="770.7" y2="434" stroke-width="2.6"/>
<line x1="778.1" y1="399.4" x2="778.1" y2="434" stroke-width="2.6"/>
<line x1="783" y1="399.4" x2="783" y2="434" stroke-width="1.2"/>
<path d="M740,432 Q744,428 747.2,434 Q751,440 755.3,434 Q758.9,440 762.6,434 Q766.6,440 770.7,434 Q774.4,440 778.1,434 Q782,440 786,434 Q789,428 792.6,432" stroke-width="2.2" fill="none"/>
<line x1="740" y1="439.9" x2="792.6" y2="439.9" stroke-width="1.2"/>
<line x1="766.8" y1="282" x2="766.8" y2="446" stroke-width="1.08" stroke-dasharray="12,2,2,2"/>
<line x1="700" y1="332.4" x2="820" y2="332.4" stroke-width="1.08" stroke-dasharray="12,2,2,2"/>
</g>
<line x1="615.5" y1="287.4" x2="766.8" y2="287.4" stroke-width="1.2"/>
<line x1="621.8" y1="287.4" x2="621.8" y2="440.3" stroke-width="1.2"/>
<polygon points="621.8,287.4 623.5,295.4 620,295.4" fill="#000" stroke="none"/>
<polygon points="621.8,440.3 620,432.3 623.5,432.3" fill="#000" stroke="none"/>
<text transform="translate(614,363) rotate(-90)" x="0" y="5.4" font-size="15" text-anchor="middle">192</text>
<line x1="636" y1="302" x2="724.3" y2="302" stroke-width="1.2"/>
<line x1="643.2" y1="302" x2="643.2" y2="440.3" stroke-width="1.2"/>
<polygon points="643.2,302 645,310 641.5,310" fill="#000" stroke="none"/>
<polygon points="643.2,440.3 641.5,432.3 645,432.3" fill="#000" stroke="none"/>
<text transform="translate(635,370) rotate(-90)" x="0" y="5.4" font-size="15" text-anchor="middle">174</text>
<line x1="663.7" y1="302" x2="663.7" y2="383.1" stroke-width="1.2"/>
<polygon points="663.7,302 665.5,310 662,310" fill="#000" stroke="none"/>
<polygon points="663.7,383.1 662,375.1 665.5,375.1" fill="#000" stroke="none"/>
<text transform="translate(655.8,341) rotate(-90)" x="0" y="5.4" font-size="15" text-anchor="middle">102</text>
<line x1="674.7" y1="319.3" x2="724.3" y2="319.3" stroke-width="1.2"/>
<line x1="681.9" y1="319.3" x2="681.9" y2="383.1" stroke-width="1.2"/>
<polygon points="681.9,319.3 683.6,327.3 680.1,327.3" fill="#000" stroke="none"/>
<polygon points="681.9,383.1 680.1,375.1 683.6,375.1" fill="#000" stroke="none"/>
<text transform="translate(674,351.4) rotate(-90)" x="0" y="5.4" font-size="15" text-anchor="middle">80</text>
<line x1="694.5" y1="332.8" x2="732.3" y2="332.8" stroke-width="1.2"/>
<line x1="701.3" y1="332.8" x2="701.3" y2="383.1" stroke-width="1.2"/>
<polygon points="701.3,332.8 703,340.8 699.5,340.8" fill="#000" stroke="none"/>
<polygon points="701.3,383.1 699.5,375.1 703,375.1" fill="#000" stroke="none"/>
<text transform="translate(693.7,357.7) rotate(-90)" x="0" y="5.4" font-size="15" text-anchor="middle">63</text>
<line x1="657.4" y1="383.1" x2="724.3" y2="383.1" stroke-width="1.2"/>
<line x1="724.3" y1="383.1" x2="830.3" y2="383.1" stroke-width="1.08" stroke-dasharray="12,2,2,2"/>
<line x1="663.7" y1="383.1" x2="663.7" y2="440.3" stroke-width="1.2"/>
<polygon points="663.7,383.1 665.5,391.1 662,391.1" fill="#000" stroke="none"/>
<polygon points="663.7,440.3 662,432.3 665.5,432.3" fill="#000" stroke="none"/>
<text transform="translate(655,411) rotate(-90)" x="0" y="5.4" font-size="15" text-anchor="middle">72</text>
<line x1="675.6" y1="422.6" x2="724.3" y2="422.6" stroke-width="1.2"/>
<line x1="681.9" y1="383.1" x2="681.9" y2="422.6" stroke-width="1.2"/>
<polygon points="681.9,383.1 683.6,391.1 680.1,391.1" fill="#000" stroke="none"/>
<polygon points="681.9,422.6 680.1,414.6 683.6,414.6" fill="#000" stroke="none"/>
<text transform="translate(674.8,402.4) rotate(-90)" x="0" y="5.4" font-size="15" text-anchor="middle">50</text>
<line x1="615.5" y1="440.3" x2="724.3" y2="440.3" stroke-width="1.2"/>
<line x1="695.3" y1="418.7" x2="724.3" y2="418.7" stroke-width="1.2"/>
<line x1="695.3" y1="426" x2="724.3" y2="426" stroke-width="1.2"/>
<line x1="701.3" y1="398.4" x2="701.3" y2="418.7" stroke-width="1.2"/>
<polygon points="701.3,418.7 699.5,410.7 703,410.7" fill="#000" stroke="none"/>
<line x1="701.3" y1="426" x2="701.3" y2="476.6" stroke-width="1.2"/>
<polygon points="701.3,426 703,434 699.5,434" fill="#000" stroke="none"/>
<text transform="translate(693.4,460) rotate(-90)" x="0" y="5.4" font-size="15" text-anchor="middle">Ø8.5</text>
<line x1="721.3" y1="240" x2="721.3" y2="302" stroke-width="1.2"/>
<line x1="811" y1="240" x2="811" y2="313" stroke-width="1.2"/>
<line x1="721.3" y1="246.3" x2="811" y2="246.3" stroke-width="1.2"/>
<polygon points="721.3,246.3 729.3,244.6 729.3,248.1" fill="#000" stroke="none"/>
<polygon points="811,246.3 803,248.1 803,244.6" fill="#000" stroke="none"/>
<text x="766.8" y="241.6" font-size="15" text-anchor="middle" font-weight="normal">112</text>
<line x1="723.4" y1="260.4" x2="723.4" y2="302" stroke-width="1.2"/>
<line x1="808.2" y1="260.4" x2="808.2" y2="302" stroke-width="1.2"/>
<line x1="723.4" y1="266.4" x2="808.2" y2="266.4" stroke-width="1.2"/>
<polygon points="723.4,266.4 731.4,264.6 731.4,268.1" fill="#000" stroke="none"/>
<polygon points="808.2,266.4 800.2,268.1 800.2,264.6" fill="#000" stroke="none"/>
<text x="766.8" y="261.6" font-size="15" text-anchor="middle" font-weight="normal">106</text>
<line x1="740.8" y1="440.3" x2="740.8" y2="462.5" stroke-width="1.2"/>
<line x1="795.3" y1="440.3" x2="795.3" y2="462.5" stroke-width="1.2"/>
<line x1="740.8" y1="458.5" x2="795.3" y2="458.5" stroke-width="1.2"/>
<polygon points="740.8,458.5 748.8,456.8 748.8,460.2" fill="#000" stroke="none"/>
<polygon points="795.3,458.5 787.3,460.2 787.3,456.8" fill="#000" stroke="none"/>
<text x="766.8" y="453" font-size="15" text-anchor="middle" font-weight="normal">67</text>
<line x1="734" y1="440.3" x2="734" y2="483.5" stroke-width="1.2"/>
<line x1="801.6" y1="440.3" x2="801.6" y2="483.5" stroke-width="1.2"/>
<line x1="734" y1="479" x2="801.6" y2="479" stroke-width="1.2"/>
<polygon points="734,479 742,477.2 742,480.8" fill="#000" stroke="none"/>
<polygon points="801.6,479 793.6,480.8 793.6,477.2" fill="#000" stroke="none"/>
<text x="766.8" y="473.5" font-size="15" text-anchor="middle" font-weight="normal">85</text>
<line x1="726.9" y1="440.3" x2="726.9" y2="503" stroke-width="1.2"/>
<line x1="809.5" y1="440.3" x2="809.5" y2="503" stroke-width="1.2"/>
<line x1="726.9" y1="498" x2="809.5" y2="498" stroke-width="1.2"/>
<polygon points="726.9,498 734.9,496.2 734.9,499.8" fill="#000" stroke="none"/>
<polygon points="809.5,498 801.5,499.8 801.5,496.2" fill="#000" stroke="none"/>
<text x="766.8" y="492.5" font-size="15" text-anchor="middle" font-weight="normal">103</text>
<line x1="808.3" y1="349.8" x2="865.5" y2="349.8" stroke-width="1.2"/>
<line x1="808.3" y1="413.8" x2="865.5" y2="413.8" stroke-width="1.2"/>
<line x1="858.5" y1="349.8" x2="858.5" y2="413.8" stroke-width="1.2"/>
<polygon points="858.5,349.8 860.2,357.8 856.8,357.8" fill="#000" stroke="none"/>
<polygon points="858.5,413.8 856.8,405.8 860.2,405.8" fill="#000" stroke="none"/>
<text transform="translate(851.4,381.8) rotate(-90)" x="0" y="5.4" font-size="15" text-anchor="middle">Ø80h8</text>
<g transform="translate(12.1,762.9)">
<rect x="152.5" y="304.8" width="114.3" height="136.1" stroke-width="2.6" fill="none" rx="0"/>
<rect x="158.7" y="311" width="101.3" height="124.4" stroke-width="1.1" fill="none" rx="0"/>
<line x1="168.5" y1="304.8" x2="168.5" y2="311" stroke-width="1.08"/>
<line x1="168.5" y1="435.4" x2="168.5" y2="440.9" stroke-width="1.08"/>
<line x1="172.5" y1="304.8" x2="172.5" y2="311" stroke-width="1.08"/>
<line x1="172.5" y1="435.4" x2="172.5" y2="440.9" stroke-width="1.08"/>
<line x1="246" y1="304.8" x2="246" y2="311" stroke-width="1.08"/>
<line x1="246" y1="435.4" x2="246" y2="440.9" stroke-width="1.08"/>
<line x1="250" y1="304.8" x2="250" y2="311" stroke-width="1.08"/>
<line x1="250" y1="435.4" x2="250" y2="440.9" stroke-width="1.08"/>
<line x1="152.5" y1="321" x2="158.7" y2="321" stroke-width="1.08"/>
<line x1="152.5" y1="324" x2="158.7" y2="324" stroke-width="1.08"/>
<line x1="260" y1="321" x2="266.8" y2="321" stroke-width="1.08"/>
<line x1="260" y1="324" x2="266.8" y2="324" stroke-width="1.08"/>
<line x1="152.5" y1="418" x2="158.7" y2="418" stroke-width="1.08"/>
<line x1="152.5" y1="421" x2="158.7" y2="421" stroke-width="1.08"/>
<line x1="260" y1="418" x2="266.8" y2="418" stroke-width="1.08"/>
<line x1="260" y1="421" x2="266.8" y2="421" stroke-width="1.08"/>
<line x1="158.7" y1="334.9" x2="185" y2="334.9" stroke-width="2.2"/>
<line x1="234" y1="334.9" x2="260" y2="334.9" stroke-width="2.2"/>
<line x1="159.4" y1="343.8" x2="182" y2="343.8" stroke-width="2.6"/>
<line x1="238" y1="343.8" x2="258.5" y2="343.8" stroke-width="2.6"/>
<line x1="160" y1="351.3" x2="172" y2="351.3" stroke-width="2.6"/>
<line x1="247.6" y1="351.3" x2="258.5" y2="351.3" stroke-width="2.6"/>
<line x1="158.7" y1="431" x2="185" y2="431" stroke-width="1.32"/>
<line x1="234" y1="431" x2="260" y2="431" stroke-width="1.32"/>
<line x1="158.7" y1="435.4" x2="177" y2="414" stroke-width="1.32"/>
<line x1="260" y1="435.4" x2="239" y2="414" stroke-width="1.32"/>
<line x1="158.7" y1="311" x2="172" y2="355" stroke-width="0"/>
<path d="M184.1,350.3 L186.6,336.4 Q209.4,326 233.4,336.4 L235.9,350.3 L244.7,358.5 Q258,359 261.2,362.9 Q266,385.4 261.2,408.4 Q258,412 244.7,412.2 L235.9,421 L233.4,434.9 Q209.4,443 186.6,434.9 L184.1,421 L174,412.2 Q161,412 157.6,408.4 Q152.8,385.4 157.6,362.9 Q161,359 174,358.5 Z" stroke-width="1.5" fill="none"/>
<path d="M184.1,350.3 Q209.4,344 235.9,350.3" stroke-width="1.1" fill="none"/>
<path d="M184.1,421 Q209.4,427 235.9,421" stroke-width="1.1" fill="none"/>
<path d="M253.6,385.4 L253.5,386.6 L253.3,387.7 L252.9,388.8 L252.3,389.9 L251.6,391 L250.9,392 L250,392.9 L249.2,393.9 L248.3,394.7 L247.5,395.6 L246.7,396.4 L245.9,397.3 L245.3,398.1 L244.8,399 L244.3,399.9 L244,400.8 L243.8,401.8 L243.6,402.8 L243.5,403.9 L243.5,405.1 L243.5,406.3 L243.5,407.5 L243.5,408.8 L243.4,410.1 L243.2,411.3 L242.9,412.5 L242.5,413.7 L242,414.8 L241.4,415.8 L240.7,416.7 L239.8,417.4 L238.8,418 L237.7,418.5 L236.5,418.9 L235.3,419.2 L234.1,419.4 L232.8,419.5 L231.5,419.5 L230.3,419.5 L229.1,419.5 L227.9,419.5 L226.8,419.6 L225.8,419.8 L224.8,420 L223.9,420.3 L223,420.8 L222.1,421.3 L221.3,421.9 L220.4,422.7 L219.6,423.5 L218.7,424.3 L217.9,425.2 L216.9,426 L216,426.9 L215,427.6 L213.9,428.3 L212.8,428.9 L211.7,429.3 L210.6,429.5 L209.4,429.6 L208.2,429.5 L207.1,429.3 L206,428.9 L204.9,428.3 L203.8,427.6 L202.8,426.9 L201.9,426 L200.9,425.2 L200.1,424.3 L199.2,423.5 L198.4,422.7 L197.5,421.9 L196.7,421.3 L195.8,420.8 L194.9,420.3 L194,420 L193,419.8 L192,419.6 L190.9,419.5 L189.7,419.5 L188.5,419.5 L187.3,419.5 L186,419.5 L184.7,419.4 L183.5,419.2 L182.3,418.9 L181.1,418.5 L180,418 L179,417.4 L178.1,416.7 L177.4,415.8 L176.8,414.8 L176.3,413.7 L175.9,412.5 L175.6,411.3 L175.4,410.1 L175.3,408.8 L175.3,407.5 L175.3,406.3 L175.3,405.1 L175.3,403.9 L175.2,402.8 L175,401.8 L174.8,400.8 L174.5,399.9 L174,399 L173.5,398.1 L172.9,397.3 L172.1,396.4 L171.3,395.6 L170.5,394.7 L169.6,393.9 L168.8,392.9 L167.9,392 L167.2,391 L166.5,389.9 L165.9,388.8 L165.5,387.7 L165.3,386.6 L165.2,385.4 L165.3,384.2 L165.5,383.1 L165.9,382 L166.5,380.9 L167.2,379.8 L167.9,378.8 L168.8,377.9 L169.6,376.9 L170.5,376.1 L171.3,375.2 L172.1,374.4 L172.9,373.5 L173.5,372.7 L174,371.8 L174.5,370.9 L174.8,370 L175,369 L175.2,368 L175.3,366.9 L175.3,365.7 L175.3,364.5 L175.3,363.3 L175.3,362 L175.4,360.7 L175.6,359.5 L175.9,358.3 L176.3,357.1 L176.8,356 L177.4,355 L178.1,354.1 L179,353.4 L180,352.8 L181.1,352.3 L182.3,351.9 L183.5,351.6 L184.7,351.4 L186,351.3 L187.3,351.3 L188.5,351.3 L189.7,351.3 L190.9,351.3 L192,351.2 L193,351 L194,350.8 L194.9,350.5 L195.8,350 L196.7,349.5 L197.5,348.9 L198.4,348.1 L199.2,347.3 L200.1,346.5 L200.9,345.6 L201.9,344.8 L202.8,343.9 L203.8,343.2 L204.9,342.5 L206,341.9 L207.1,341.5 L208.2,341.3 L209.4,341.2 L210.6,341.3 L211.7,341.5 L212.8,341.9 L213.9,342.5 L215,343.2 L216,343.9 L216.9,344.8 L217.9,345.6 L218.7,346.5 L219.6,347.3 L220.4,348.1 L221.3,348.9 L222.1,349.5 L223,350 L223.9,350.5 L224.8,350.8 L225.8,351 L226.8,351.2 L227.9,351.3 L229.1,351.3 L230.3,351.3 L231.5,351.3 L232.8,351.3 L234.1,351.4 L235.3,351.6 L236.5,351.9 L237.7,352.3 L238.8,352.8 L239.8,353.4 L240.7,354.1 L241.4,355 L242,356 L242.5,357.1 L242.9,358.3 L243.2,359.5 L243.4,360.7 L243.5,362 L243.5,363.3 L243.5,364.5 L243.5,365.7 L243.5,366.9 L243.6,368 L243.8,369 L244,370 L244.3,370.9 L244.8,371.8 L245.3,372.7 L245.9,373.5 L246.7,374.4 L247.5,375.2 L248.3,376.1 L249.2,376.9 L250,377.9 L250.9,378.8 L251.6,379.8 L252.3,380.9 L252.9,382 L253.3,383.1 L253.5,384.2 L253.6,385.4Z" stroke-width="1.4" fill="none"/>
<circle cx="209.4" cy="385.4" r="31" stroke-width="1.5" fill="none"/>
<circle cx="209.4" cy="385.4" r="25.3" stroke-width="1.5" fill="none"/>
<circle cx="209.4" cy="385.4" r="17.1" stroke-width="1.5" fill="none"/>
<path d="M205.4,376.7 L205.4,373 L213.4,373 L213.4,376.7 A9.5,9.5 0 1 1 205.4,376.7 Z" stroke-width="1.5" fill="none"/>
<circle cx="247.2" cy="385.4" r="2.8" stroke-width="1.625" fill="#888"/>
<line x1="244.4" y1="385.4" x2="250" y2="385.4" stroke-width="0.96"/>
<line x1="247.2" y1="382.6" x2="247.2" y2="388.2" stroke-width="0.96"/>
<circle cx="236.1" cy="412.1" r="2.8" stroke-width="1.625" fill="#888"/>
<line x1="233.3" y1="412.1" x2="238.9" y2="412.1" stroke-width="0.96"/>
<line x1="236.1" y1="409.3" x2="236.1" y2="414.9" stroke-width="0.96"/>
<circle cx="209.4" cy="423.2" r="2.8" stroke-width="1.625" fill="#888"/>
<line x1="206.6" y1="423.2" x2="212.2" y2="423.2" stroke-width="0.96"/>
<line x1="209.4" y1="420.4" x2="209.4" y2="426" stroke-width="0.96"/>
<circle cx="182.7" cy="412.1" r="2.8" stroke-width="1.625" fill="#888"/>
<line x1="179.9" y1="412.1" x2="185.5" y2="412.1" stroke-width="0.96"/>
<line x1="182.7" y1="409.3" x2="182.7" y2="414.9" stroke-width="0.96"/>
<circle cx="171.6" cy="385.4" r="2.8" stroke-width="1.625" fill="#888"/>
<line x1="168.8" y1="385.4" x2="174.4" y2="385.4" stroke-width="0.96"/>
<line x1="171.6" y1="382.6" x2="171.6" y2="388.2" stroke-width="0.96"/>
<circle cx="182.7" cy="358.7" r="2.8" stroke-width="1.625" fill="#888"/>
<line x1="179.9" y1="358.7" x2="185.5" y2="358.7" stroke-width="0.96"/>
<line x1="182.7" y1="355.9" x2="182.7" y2="361.5" stroke-width="0.96"/>
<circle cx="209.4" cy="347.6" r="2.8" stroke-width="1.625" fill="#888"/>
<line x1="206.6" y1="347.6" x2="212.2" y2="347.6" stroke-width="0.96"/>
<line x1="209.4" y1="344.8" x2="209.4" y2="350.4" stroke-width="0.96"/>
<circle cx="236.1" cy="358.7" r="2.8" stroke-width="1.625" fill="#888"/>
<line x1="233.3" y1="358.7" x2="238.9" y2="358.7" stroke-width="0.96"/>
<line x1="236.1" y1="355.9" x2="236.1" y2="361.5" stroke-width="0.96"/>
<line x1="209.4" y1="296" x2="209.4" y2="491" stroke-width="1.08" stroke-dasharray="14,2,2,2"/>
<line x1="150" y1="385.4" x2="272" y2="385.4" stroke-width="1.08" stroke-dasharray="14,2,2,2"/>
<line x1="175" y1="358" x2="88" y2="445" stroke-width="1.2"/>
<line x1="154.4" y1="387" x2="107.7" y2="433.6" stroke-width="1.2"/>
<line x1="208.5" y1="448.1" x2="149.8" y2="506.8" stroke-width="1.2"/>
<line x1="204.3" y1="443.9" x2="161.2" y2="487.1" stroke-width="1.2"/>
<line x1="91.5" y1="441.5" x2="153.3" y2="503.3" stroke-width="1.2"/>
<polygon points="91.5,441.5 98.4,445.9 95.9,448.4" fill="#000" stroke="none"/>
<polygon points="153.3,503.3 146.4,498.9 148.9,496.4" fill="#000" stroke="none"/>
<line x1="111.3" y1="430.1" x2="164.7" y2="483.5" stroke-width="1.2"/>
<polygon points="111.3,430.1 118.1,434.5 115.7,437" fill="#000" stroke="none"/>
<polygon points="164.7,483.5 157.8,479.1 160.3,476.7" fill="#000" stroke="none"/>
<text transform="translate(128.8,466.2) rotate(45)" x="0" y="5.4" font-size="15" text-anchor="middle">Ø110</text>
<text transform="translate(145.1,452) rotate(45)" x="0" y="5.4" font-size="15" text-anchor="middle">Ø95</text>
<line x1="266.8" y1="440.9" x2="284.8" y2="459" stroke-width="1.2"/>
<path d="M209.4,484.5 Q224,484 236,479" stroke-width="1.0" fill="none"/>
<path d="M259,470 Q270,465 279.5,456" stroke-width="1.0" fill="none"/>
<polygon points="209.6,484.5 217.5,482.4 217.7,485.8" fill="#000" stroke="none"/>
<polygon points="279.5,456 275.2,463 272.7,460.5" fill="#000" stroke="none"/>
<text x="247.8" y="481.5" font-size="15" text-anchor="middle" font-weight="normal">45°</text>
<line x1="152.4" y1="234" x2="152.4" y2="304.8" stroke-width="1.2"/>
<line x1="169.7" y1="275" x2="169.7" y2="312" stroke-width="1.08"/>
<line x1="248.9" y1="275" x2="248.9" y2="312" stroke-width="1.08"/>
<line x1="169.7" y1="281.7" x2="248.9" y2="281.7" stroke-width="1.2"/>
<polygon points="169.7,281.7 177.7,279.9 177.7,283.4" fill="#000" stroke="none"/>
<polygon points="248.9,281.7 240.9,283.4 240.9,279.9" fill="#000" stroke="none"/>
<text x="209.3" y="277" font-size="15" text-anchor="middle" font-weight="normal">100</text>
<line x1="124.9" y1="304.8" x2="152.5" y2="304.8" stroke-width="1.08"/>
<line x1="124.9" y1="310" x2="152.5" y2="310" stroke-width="1.08"/>
<line x1="132.1" y1="279.5" x2="132.1" y2="304.8" stroke-width="1.08"/>
<polygon points="132.1,304.8 130.3,296.8 133.8,296.8" fill="#000" stroke="none"/>
<line x1="132.1" y1="310" x2="132.1" y2="330.8" stroke-width="1.08"/>
<polygon points="132.1,310 133.8,318 130.3,318" fill="#000" stroke="none"/>
<text transform="translate(121.9,283) rotate(-90)" x="0" y="5.4" font-size="15" text-anchor="middle">8</text>
<text x="91.3" y="360.4" font-size="15" text-anchor="start" font-weight="normal">M8x14</text>
<line x1="90.6" y1="365.2" x2="153" y2="365.2" stroke-width="1.08"/>
<line x1="153" y1="365.2" x2="205" y2="377.8" stroke-width="1.08"/>
</g>
<polyline points="278.5,1128 289,1145.6 297,1145.6 297,1152 307,1152 307,1157.3 311.4,1157.3 317.7,1180.5 330.2,1189.5 330.2,1202 338.8,1202 338.8,1073.8 333,1066.5 311.4,1063 311.4,1044.3 296.2,1044.3 296.2,1051.4 289,1051.4 279,1068.5 279,1128" stroke-width="2.6" fill="none"/>
<line x1="289" y1="1051.4" x2="289" y2="1145.6" stroke-width="1.2"/>
<line x1="297" y1="1051.4" x2="297" y2="1152" stroke-width="1.2"/>
<line x1="305" y1="1044.3" x2="305" y2="1152" stroke-width="1.2"/>
<line x1="311.4" y1="1063" x2="311.4" y2="1157.3" stroke-width="1.2"/>
<line x1="331" y1="1073.8" x2="331" y2="1189.5" stroke-width="1.2"/>
<line x1="335.6" y1="1073.8" x2="335.6" y2="1200" stroke-width="1.08"/>
<line x1="283" y1="1068.5" x2="283" y2="1130" stroke-width="1.08"/>
<line x1="246" y1="1098" x2="367" y2="1098" stroke-width="1.08"/>
<line x1="312" y1="1118.5" x2="329.3" y2="1118.5" stroke-width="2.0"/>
<polyline points="335.6,1082 331,1082 331,1090 328,1090 328,1106 331,1106 331,1112" stroke-width="1.0" fill="none"/>
<line x1="163.1" y1="996.9" x2="163.1" y2="1068.7" stroke-width="1.2"/>
<line x1="338.3" y1="996.9" x2="338.3" y2="1073.8" stroke-width="1.2"/>
<line x1="163.1" y1="1002.7" x2="338.3" y2="1002.7" stroke-width="1.2"/>
<polygon points="163.1,1002.7 171.1,1001 171.1,1004.5" fill="#000" stroke="none"/>
<polygon points="338.3,1002.7 330.3,1004.5 330.3,1001" fill="#000" stroke="none"/>
<text x="250.6" y="998.3" font-size="15" text-anchor="middle" font-weight="normal">220</text>
<line x1="295.9" y1="1016" x2="295.9" y2="1044.3" stroke-width="1.2"/>
<line x1="163.1" y1="1023.7" x2="295.9" y2="1023.7" stroke-width="1.2"/>
<polygon points="163.1,1023.7 171.1,1022 171.1,1025.5" fill="#000" stroke="none"/>
<polygon points="295.9,1023.7 287.9,1025.5 287.9,1022" fill="#000" stroke="none"/>
<text x="228.7" y="1019.4" font-size="15" text-anchor="middle" font-weight="normal">167</text>
<line x1="338.8" y1="1073.8" x2="389.3" y2="1073.8" stroke-width="1.2"/>
<line x1="338.8" y1="1202" x2="389.3" y2="1202" stroke-width="1.2"/>
<line x1="383" y1="1073.8" x2="383" y2="1202" stroke-width="1.2"/>
<polygon points="383,1073.8 384.8,1081.8 381.2,1081.8" fill="#000" stroke="none"/>
<polygon points="383,1202 381.2,1194 384.8,1194" fill="#000" stroke="none"/>
<text transform="translate(375,1137.6) rotate(-90)" x="0" y="5.4" font-size="15" text-anchor="middle">Ø160</text>
<line x1="338.8" y1="1138" x2="366.9" y2="1138" stroke-width="1.2"/>
<line x1="360.6" y1="1098" x2="360.6" y2="1138" stroke-width="1.2"/>
<polygon points="360.6,1098 362.4,1106 358.9,1106" fill="#000" stroke="none"/>
<polygon points="360.6,1138 358.9,1130 362.4,1130" fill="#000" stroke="none"/>
<text transform="translate(351.7,1118.5) rotate(-90)" x="0" y="5.4" font-size="15" text-anchor="middle">48</text>
<rect x="461.1" y="1104.6" width="18.8" height="11" fill="url(#h2)" stroke="none"/>
<rect x="461.1" y="1179.1" width="18.8" height="11" fill="url(#h2)" stroke="none"/>
<rect x="461.1" y="1104.6" width="18.8" height="86.2" stroke-width="2.6" fill="none" rx="1.5"/>
<line x1="463.2" y1="1115.1" x2="463.2" y2="1127.1" stroke-width="2.2"/>
<line x1="477.7" y1="1115.1" x2="477.7" y2="1127.1" stroke-width="2.2"/>
<line x1="463.2" y1="1167.1" x2="463.2" y2="1179.1" stroke-width="2.2"/>
<line x1="477.7" y1="1167.1" x2="477.7" y2="1179.1" stroke-width="2.2"/>
<rect x="426.7" y="1125.6" width="87.5" height="42.5" fill="url(#h1)" stroke="none"/>
<rect x="426.7" y="1135.6" width="87.5" height="21.8" stroke-width="0" fill="#fff" rx="0" stroke="none"/>
<rect x="426.7" y="1119.1" width="21.4" height="9.6" fill="#fff" stroke="none"/>
<rect x="492.5" y="1119.1" width="21.7" height="9.6" fill="#fff" stroke="none"/>
<rect x="426.7" y="1165.4" width="21.4" height="9" fill="#fff" stroke="none"/>
<rect x="492.5" y="1165.4" width="21.7" height="9" fill="#fff" stroke="none"/>
<polygon points="448.1,1128.7 426.7,1128.7 426.7,1165.4 448.1,1165.4 448.1,1168.1 492.5,1168.1 492.5,1165.4 514.2,1165.4 514.2,1128.7 492.5,1128.7 492.5,1125.6 448.1,1125.6" stroke-width="2.6" fill="none"/>
<line x1="428.7" y1="1135.6" x2="512.2" y2="1135.6" stroke-width="1.2"/>
<line x1="428.7" y1="1157.4" x2="512.2" y2="1157.4" stroke-width="1.2"/>
<line x1="428.7" y1="1138.1" x2="455.7" y2="1138.1" stroke-width="1.08"/>
<line x1="484.7" y1="1138.1" x2="512.2" y2="1138.1" stroke-width="1.08"/>
<rect x="455.7" y="1132.9" width="29.9" height="28.3" stroke-width="2.4" fill="#fff" rx="0"/>
<line x1="458" y1="1134.1" x2="458" y2="1160.1" stroke-width="1.2"/>
<line x1="483.3" y1="1134.1" x2="483.3" y2="1160.1" stroke-width="1.2"/>
<path d="M464.7,1135.1 L476.7,1118.1 L471.7,1118.1 L462.7,1131.1" stroke-width="1.3" fill="none"/>
<path d="M464.7,1177.1 L476.7,1160.1 L471.7,1161.1 L462.7,1173.1" stroke-width="1.3" fill="none"/>
<line x1="409.7" y1="1147.1" x2="529.7" y2="1147.1" stroke-width="1.08" stroke-dasharray="12,2,2,2"/>
<line x1="470.2" y1="1097.1" x2="470.2" y2="1196.1" stroke-width="1.08" stroke-dasharray="12,2,2,2"/>
<line x1="426.3" y1="1044.3" x2="426.3" y2="1129.1" stroke-width="1.2"/>
<line x1="513.9" y1="1044.3" x2="513.9" y2="1129.1" stroke-width="1.2"/>
<line x1="426.3" y1="1051.5" x2="513.9" y2="1051.5" stroke-width="1.2"/>
<polygon points="426.3,1051.5 434.3,1049.8 434.3,1053.2" fill="#000" stroke="none"/>
<polygon points="513.9,1051.5 505.9,1053.2 505.9,1049.8" fill="#000" stroke="none"/>
<text x="470.2" y="1046.8" font-size="15" text-anchor="middle" font-weight="normal">112</text>
<line x1="454.4" y1="1066.3" x2="454.4" y2="1126.1" stroke-width="1.2"/>
<line x1="485.7" y1="1066.3" x2="485.7" y2="1126.1" stroke-width="1.2"/>
<line x1="405.5" y1="1074.1" x2="532.7" y2="1074.1" stroke-width="1.2"/>
<polygon points="426.3,1074.1 418.3,1075.8 418.3,1072.3" fill="#000" stroke="none"/>
<polygon points="454.4,1074.1 462.4,1072.3 462.4,1075.8" fill="#000" stroke="none"/>
<polygon points="485.7,1074.1 477.7,1075.8 477.7,1072.3" fill="#000" stroke="none"/>
<polygon points="513.9,1074.1 521.9,1072.3 521.9,1075.8" fill="#000" stroke="none"/>
<text x="440.2" y="1069.7" font-size="15" text-anchor="middle" font-weight="normal">36</text>
<text x="499.5" y="1069.7" font-size="15" text-anchor="middle" font-weight="normal">36</text>
<line x1="407.7" y1="1156.5" x2="426.3" y2="1156.5" stroke-width="1.2"/>
<line x1="414" y1="1107.8" x2="414" y2="1156.5" stroke-width="1.2"/>
<polygon points="414,1156.5 412.2,1148.5 415.8,1148.5" fill="#000" stroke="none"/>
<text transform="translate(406.1,1133.1) rotate(-90)" x="0" y="5.4" font-size="15" text-anchor="middle">Ø25H8</text>
<circle cx="552.4" cy="1146.7" r="18.6" stroke-width="2.6" fill="none"/>
<path d="M549,1137.1 L549,1134.1 L554.7,1134.1 L554.7,1137.1 A10,10 0 1 1 549,1137.1" stroke-width="1.3" fill="none"/>
<line x1="549" y1="1044.8" x2="549" y2="1134.1" stroke-width="1.2"/>
<line x1="554.7" y1="1044.8" x2="554.7" y2="1134.1" stroke-width="1.2"/>
<line x1="525.9" y1="1146.7" x2="577.1" y2="1146.7" stroke-width="1.08" stroke-dasharray="12,2,2,2"/>
<line x1="552.4" y1="1130.7" x2="552.4" y2="1174.7" stroke-width="1.08" stroke-dasharray="12,2,2,2"/>
<line x1="521.4" y1="1051.4" x2="549" y2="1051.4" stroke-width="1.2"/>
<line x1="554.7" y1="1051.4" x2="580" y2="1051.4" stroke-width="1.2"/>
<polygon points="549,1051.4 541,1053.2 541,1049.7" fill="#000" stroke="none"/>
<polygon points="554.7,1051.4 562.7,1049.7 562.7,1053.2" fill="#000" stroke="none"/>
<text x="575.4" y="1046.2" font-size="15" text-anchor="middle" font-weight="normal">8</text>
<line x1="565" y1="1134.3" x2="589.4" y2="1134.3" stroke-width="1.2"/>
<line x1="554.4" y1="1157" x2="589.4" y2="1157" stroke-width="1.2"/>
<line x1="583.4" y1="1082.7" x2="583.4" y2="1134.3" stroke-width="1.2"/>
<polygon points="583.4,1134.3 581.6,1126.3 585.1,1126.3" fill="#000" stroke="none"/>
<line x1="583.4" y1="1157" x2="583.4" y2="1177" stroke-width="1.2"/>
<polygon points="583.4,1157 585.1,1165 581.6,1165" fill="#000" stroke="none"/>
<text transform="translate(574.2,1097.8) rotate(-90)" x="0" y="5.4" font-size="15" text-anchor="middle">28.3</text>
<g transform="translate(5.8,763.9)">
<clipPath id="cf3b"><path d="M0,0 H950 V1307 H0 Z M724.3,302.1 V439.9 H808.3 V302.1 Z" clip-rule="evenodd"/></clipPath>
<clipPath id="cf31"><path d="M0,0 H950 V1307 H0 Z M702.8,370.6 a64,64 0 1,0 128,0 a64,64 0 1,0 -128,0 Z" clip-rule="evenodd"/></clipPath>
<clipPath id="cf32"><path d="M0,0 H950 V1307 H0 Z M712.3,332.4 a54.5,54.5 0 1,0 109,0 a54.5,54.5 0 1,0 -109,0 Z" clip-rule="evenodd"/></clipPath>
<g clip-path="url(#cf3b)">
<g clip-path="url(#cf31)">
<circle cx="766.8" cy="332.4" r="54.5" stroke-width="2.6" fill="none"/>
</g>
<g clip-path="url(#cf32)">
<circle cx="766.8" cy="370.6" r="64" stroke-width="2.6" fill="none"/>
</g>
</g>
<path d="M752.3,302.1 Q766.8,292 782.5,302.1" stroke-width="1.2" fill="none"/>
<line x1="724.3" y1="302.1" x2="724.3" y2="439.9" stroke-width="2.6"/>
<line x1="808.3" y1="302.1" x2="808.3" y2="439.9" stroke-width="2.6"/>
<line x1="724.3" y1="302.1" x2="808.3" y2="302.1" stroke-width="1.6"/>
<rect x="724.3" y="302.1" width="15.7" height="28.7" stroke-width="2.0" fill="none" rx="0"/>
<rect x="728" y="305.6" width="8" height="6.5" stroke-width="1.2" fill="none" rx="0"/>
<line x1="728" y1="308.9" x2="736" y2="308.9" stroke-width="1.08"/>
<circle cx="731.9" cy="318.3" r="3.3" stroke-width="1.5" fill="#888"/>
<line x1="728.6" y1="318.3" x2="735.2" y2="318.3" stroke-width="0.96"/>
<line x1="731.9" y1="315" x2="731.9" y2="321.6" stroke-width="0.96"/>
<rect x="728.5" y="324.1" width="7.2" height="4.2" stroke-width="1.3" fill="none" rx="1.5"/>
<rect x="724.3" y="409.7" width="15.7" height="30.2" stroke-width="2.0" fill="none" rx="0"/>
<rect x="728.5" y="413.5" width="7.2" height="4.2" stroke-width="1.3" fill="none" rx="1.5"/>
<circle cx="731.9" cy="422.2" r="3.3" stroke-width="1.5" fill="#888"/>
<line x1="728.6" y1="422.2" x2="735.2" y2="422.2" stroke-width="0.96"/>
<line x1="731.9" y1="418.9" x2="731.9" y2="425.5" stroke-width="0.96"/>
<rect x="728" y="428.7" width="8" height="8" stroke-width="1.2" fill="none" rx="0"/>
<line x1="732" y1="428.7" x2="732" y2="436.7" stroke-width="1.08"/>
<line x1="728" y1="432.7" x2="736" y2="432.7" stroke-width="1.08"/>
<rect x="792.6" y="302.1" width="15.7" height="28.7" stroke-width="2.0" fill="none" rx="0"/>
<rect x="796.3" y="305.6" width="8" height="6.5" stroke-width="1.2" fill="none" rx="0"/>
<line x1="796.3" y1="308.9" x2="804.3" y2="308.9" stroke-width="1.08"/>
<circle cx="800.2" cy="318.3" r="3.3" stroke-width="1.5" fill="#888"/>
<line x1="796.9" y1="318.3" x2="803.5" y2="318.3" stroke-width="0.96"/>
<line x1="800.2" y1="315" x2="800.2" y2="321.6" stroke-width="0.96"/>
<rect x="796.8" y="324.1" width="7.2" height="4.2" stroke-width="1.3" fill="none" rx="1.5"/>
<rect x="792.6" y="409.7" width="15.7" height="30.2" stroke-width="2.0" fill="none" rx="0"/>
<rect x="796.8" y="413.5" width="7.2" height="4.2" stroke-width="1.3" fill="none" rx="1.5"/>
<circle cx="800.2" cy="422.2" r="3.3" stroke-width="1.5" fill="#888"/>
<line x1="796.9" y1="422.2" x2="803.5" y2="422.2" stroke-width="0.96"/>
<line x1="800.2" y1="418.9" x2="800.2" y2="425.5" stroke-width="0.96"/>
<rect x="796.3" y="428.7" width="8" height="8" stroke-width="1.2" fill="none" rx="0"/>
<line x1="800.3" y1="428.7" x2="800.3" y2="436.7" stroke-width="1.08"/>
<line x1="796.3" y1="432.7" x2="804.3" y2="432.7" stroke-width="1.08"/>
<line x1="728.7" y1="331" x2="728.7" y2="409.7" stroke-width="1.2"/>
<line x1="737.6" y1="331" x2="737.6" y2="409.7" stroke-width="1.2"/>
<line x1="740" y1="331" x2="740" y2="409.7" stroke-width="1.8"/>
<line x1="726.4" y1="331" x2="726.4" y2="409.7" stroke-width="1.2" stroke-dasharray="3,2"/>
<line x1="792.6" y1="331" x2="792.6" y2="409.7" stroke-width="1.8"/>
<line x1="806" y1="331" x2="806" y2="409.7" stroke-width="1.2" stroke-dasharray="3,2"/>
<rect x="796.5" y="333" width="8" height="35.4" stroke-width="1.2" fill="none" rx="0"/>
<rect x="796.5" y="361" width="8" height="7.4" stroke-width="1.0" fill="none" rx="0"/>
<rect x="796.5" y="396" width="8" height="11" stroke-width="1.0" fill="none" rx="0"/>
<path d="M742.9,313.2 A5,5 0 0 1 747.9,308.2 Q766.8,312 786.2,308.2 A5,5 0 0 1 791.2,313.2 Q788,331.6 791.2,350 A5,5 0 0 1 786.2,355 Q766.8,351 747.9,355 A5,5 0 0 1 742.9,350 Q746,331.6 742.9,313.2 Z" stroke-width="1.4" fill="none"/>
<circle cx="747.9" cy="313.2" r="2.4" stroke-width="1.3" fill="none"/>
<circle cx="747.9" cy="350" r="2.4" stroke-width="1.3" fill="none"/>
<circle cx="786.2" cy="313.2" r="2.4" stroke-width="1.3" fill="none"/>
<circle cx="786.2" cy="350" r="2.4" stroke-width="1.3" fill="none"/>
<circle cx="766.8" cy="332.4" r="23.6" stroke-width="1.4" fill="none"/>
<circle cx="766.8" cy="332.4" r="21.2" stroke-width="1.1" fill="none"/>
<circle cx="766.8" cy="332.4" r="19.3" stroke-width="1.6" fill="none"/>
<circle cx="767" cy="366.2" r="9.2" stroke-width="1.3" fill="none"/>
<circle cx="767" cy="366.2" r="5.5" stroke-width="1.4" fill="none"/>
<path d="M782,359 L785,359 Q790,363 785,368 L782,368 Z" stroke-width="1.3" fill="none"/>
<rect x="752.3" y="378" width="30.2" height="21.4" stroke-width="1.4" fill="none" rx="1.5"/>
<line x1="747.2" y1="378" x2="747.2" y2="432" stroke-width="2.6"/>
<line x1="788.4" y1="372" x2="788.4" y2="432" stroke-width="2.6"/>
<path d="M749.4,356 Q747,366 747.2,378" stroke-width="1.0" fill="none"/>
<path d="M785,368 Q789,380 788.4,390" stroke-width="1.0" fill="none"/>
<line x1="755.3" y1="399.4" x2="755.3" y2="434" stroke-width="2.6"/>
<line x1="762.6" y1="399.4" x2="762.6" y2="434" stroke-width="2.6"/>
<line x1="770.7" y1="399.4" x2="770.7" y2="434" stroke-width="2.6"/>
<line x1="778.1" y1="399.4" x2="778.1" y2="434" stroke-width="2.6"/>
<line x1="783" y1="399.4" x2="783" y2="434" stroke-width="1.2"/>
<path d="M740,432 Q744,428 747.2,434 Q751,440 755.3,434 Q758.9,440 762.6,434 Q766.6,440 770.7,434 Q774.4,440 778.1,434 Q782,440 786,434 Q789,428 792.6,432" stroke-width="2.2" fill="none"/>
<line x1="740" y1="439.9" x2="792.6" y2="439.9" stroke-width="1.2"/>
<line x1="766.8" y1="282" x2="766.8" y2="446" stroke-width="1.08" stroke-dasharray="12,2,2,2"/>
<line x1="700" y1="332.4" x2="820" y2="332.4" stroke-width="1.08" stroke-dasharray="12,2,2,2"/>
</g>
<line x1="617.2" y1="1043" x2="772.6" y2="1043" stroke-width="1.2"/>
<line x1="624" y1="1043" x2="624" y2="1203.8" stroke-width="1.2"/>
<polygon points="624,1043 625.8,1051 622.2,1051" fill="#000" stroke="none"/>
<polygon points="624,1203.8 622.2,1195.8 625.8,1195.8" fill="#000" stroke="none"/>
<text transform="translate(616.2,1123) rotate(-90)" x="0" y="5.4" font-size="15" text-anchor="middle">202.5</text>
<line x1="637.7" y1="1066.3" x2="730.1" y2="1066.3" stroke-width="1.2"/>
<line x1="644" y1="1066.3" x2="644" y2="1203.8" stroke-width="1.2"/>
<polygon points="644,1066.3 645.8,1074.3 642.2,1074.3" fill="#000" stroke="none"/>
<polygon points="644,1203.8 642.2,1195.8 645.8,1195.8" fill="#000" stroke="none"/>
<text transform="translate(635.8,1134) rotate(-90)" x="0" y="5.4" font-size="15" text-anchor="middle">174</text>
<line x1="664.6" y1="1066.3" x2="664.6" y2="1146.5" stroke-width="1.2"/>
<polygon points="664.6,1066.3 666.4,1074.3 662.9,1074.3" fill="#000" stroke="none"/>
<polygon points="664.6,1146.5 662.9,1138.5 666.4,1138.5" fill="#000" stroke="none"/>
<text transform="translate(656.7,1105) rotate(-90)" x="0" y="5.4" font-size="15" text-anchor="middle">102</text>
<line x1="676.2" y1="1083.4" x2="730.1" y2="1083.4" stroke-width="1.2"/>
<line x1="683" y1="1083.4" x2="683" y2="1146.5" stroke-width="1.2"/>
<polygon points="683,1083.4 684.8,1091.4 681.2,1091.4" fill="#000" stroke="none"/>
<polygon points="683,1146.5 681.2,1138.5 684.8,1138.5" fill="#000" stroke="none"/>
<text transform="translate(675.1,1114.2) rotate(-90)" x="0" y="5.4" font-size="15" text-anchor="middle">80</text>
<line x1="694" y1="1096.7" x2="738.1" y2="1096.7" stroke-width="1.2"/>
<line x1="701.3" y1="1096.7" x2="701.3" y2="1146.5" stroke-width="1.2"/>
<polygon points="701.3,1096.7 703,1104.7 699.5,1104.7" fill="#000" stroke="none"/>
<polygon points="701.3,1146.5 699.5,1138.5 703,1138.5" fill="#000" stroke="none"/>
<text transform="translate(693.7,1121.4) rotate(-90)" x="0" y="5.4" font-size="15" text-anchor="middle">63</text>
<line x1="658.3" y1="1146.5" x2="730.1" y2="1146.5" stroke-width="1.2"/>
<line x1="730.1" y1="1146.5" x2="836.1" y2="1146.5" stroke-width="1.08" stroke-dasharray="12,2,2,2"/>
<line x1="664.6" y1="1146.5" x2="664.6" y2="1203.8" stroke-width="1.2"/>
<polygon points="664.6,1146.5 666.4,1154.5 662.9,1154.5" fill="#000" stroke="none"/>
<polygon points="664.6,1203.8 662.9,1195.8 666.4,1195.8" fill="#000" stroke="none"/>
<text transform="translate(655.9,1174.6) rotate(-90)" x="0" y="5.4" font-size="15" text-anchor="middle">72</text>
<line x1="677.1" y1="1186.2" x2="730.1" y2="1186.2" stroke-width="1.2"/>
<line x1="683" y1="1146.5" x2="683" y2="1186.2" stroke-width="1.2"/>
<polygon points="683,1146.5 684.8,1154.5 681.2,1154.5" fill="#000" stroke="none"/>
<polygon points="683,1186.2 681.2,1178.2 684.8,1178.2" fill="#000" stroke="none"/>
<text transform="translate(675.9,1165.6) rotate(-90)" x="0" y="5.4" font-size="15" text-anchor="middle">50</text>
<line x1="617.2" y1="1203.8" x2="730.1" y2="1203.8" stroke-width="1.2"/>
<line x1="695.3" y1="1182.6" x2="730.1" y2="1182.6" stroke-width="1.2"/>
<line x1="695.3" y1="1189.8" x2="730.1" y2="1189.8" stroke-width="1.2"/>
<line x1="701.3" y1="1162.3" x2="701.3" y2="1182.6" stroke-width="1.2"/>
<polygon points="701.3,1182.6 699.5,1174.6 703,1174.6" fill="#000" stroke="none"/>
<line x1="701.3" y1="1189.8" x2="701.3" y2="1240.4" stroke-width="1.2"/>
<polygon points="701.3,1189.8 703,1197.8 699.5,1197.8" fill="#000" stroke="none"/>
<text transform="translate(693.4,1222.9) rotate(-90)" x="0" y="5.4" font-size="15" text-anchor="middle">Ø8.5</text>
<line x1="727.8" y1="994.3" x2="727.8" y2="1066.3" stroke-width="1.2"/>
<line x1="816.6" y1="994.3" x2="816.6" y2="1077.3" stroke-width="1.2"/>
<line x1="727.8" y1="1000.6" x2="816.6" y2="1000.6" stroke-width="1.2"/>
<polygon points="727.8,1000.6 735.8,998.9 735.8,1002.4" fill="#000" stroke="none"/>
<polygon points="816.6,1000.6 808.6,1002.4 808.6,998.9" fill="#000" stroke="none"/>
<text x="772.6" y="995.9" font-size="15" text-anchor="middle" font-weight="normal">112</text>
<line x1="729.5" y1="1016" x2="729.5" y2="1066.3" stroke-width="1.2"/>
<line x1="813.9" y1="1016" x2="813.9" y2="1066.3" stroke-width="1.2"/>
<line x1="729.5" y1="1022" x2="813.9" y2="1022" stroke-width="1.2"/>
<polygon points="729.5,1022 737.5,1020.2 737.5,1023.8" fill="#000" stroke="none"/>
<polygon points="813.9,1022 805.9,1023.8 805.9,1020.2" fill="#000" stroke="none"/>
<text x="772.6" y="1017.2" font-size="15" text-anchor="middle" font-weight="normal">106</text>
<line x1="746.9" y1="1203.8" x2="746.9" y2="1227.4" stroke-width="1.2"/>
<line x1="800.8" y1="1203.8" x2="800.8" y2="1227.4" stroke-width="1.2"/>
<line x1="746.9" y1="1223.4" x2="800.8" y2="1223.4" stroke-width="1.2"/>
<polygon points="746.9,1223.4 754.9,1221.7 754.9,1225.2" fill="#000" stroke="none"/>
<polygon points="800.8,1223.4 792.8,1225.2 792.8,1221.7" fill="#000" stroke="none"/>
<text x="772.6" y="1217.9" font-size="15" text-anchor="middle" font-weight="normal">67</text>
<line x1="739.7" y1="1203.8" x2="739.7" y2="1248" stroke-width="1.2"/>
<line x1="808" y1="1203.8" x2="808" y2="1248" stroke-width="1.2"/>
<line x1="739.7" y1="1243.5" x2="808" y2="1243.5" stroke-width="1.2"/>
<polygon points="739.7,1243.5 747.7,1241.8 747.7,1245.2" fill="#000" stroke="none"/>
<polygon points="808,1243.5 800,1245.2 800,1241.8" fill="#000" stroke="none"/>
<text x="772.6" y="1238" font-size="15" text-anchor="middle" font-weight="normal">85</text>
<line x1="733" y1="1203.8" x2="733" y2="1268.2" stroke-width="1.2"/>
<line x1="815.2" y1="1203.8" x2="815.2" y2="1268.2" stroke-width="1.2"/>
<line x1="733" y1="1263.2" x2="815.2" y2="1263.2" stroke-width="1.2"/>
<polygon points="733,1263.2 741,1261.5 741,1265" fill="#000" stroke="none"/>
<polygon points="815.2,1263.2 807.2,1265 807.2,1261.5" fill="#000" stroke="none"/>
<text x="772.6" y="1257.7" font-size="15" text-anchor="middle" font-weight="normal">103</text>
<line x1="814.1" y1="1113.9" x2="870.5" y2="1113.9" stroke-width="1.2"/>
<line x1="814.1" y1="1177.3" x2="870.5" y2="1177.3" stroke-width="1.2"/>
<line x1="863.5" y1="1113.9" x2="863.5" y2="1177.3" stroke-width="1.2"/>
<polygon points="863.5,1113.9 865.2,1121.9 861.8,1121.9" fill="#000" stroke="none"/>
<polygon points="863.5,1177.3 861.8,1169.3 865.2,1169.3" fill="#000" stroke="none"/>
<text transform="translate(856.4,1145.6) rotate(-90)" x="0" y="5.4" font-size="15" text-anchor="middle">Ø80 h8</text>
<rect x="154.4" y="698.1" width="94.3" height="113.5" stroke-width="2.6" fill="none" rx="0"/>
<rect x="159.6" y="703.9" width="84.5" height="102.5" stroke-width="1.1" fill="none" rx="0"/>
<line x1="167.7" y1="698.1" x2="167.7" y2="703.9" stroke-width="1.08"/>
<line x1="167.7" y1="806.4" x2="167.7" y2="811.6" stroke-width="1.08"/>
<line x1="171" y1="698.1" x2="171" y2="703.9" stroke-width="1.08"/>
<line x1="171" y1="806.4" x2="171" y2="811.6" stroke-width="1.08"/>
<line x1="175" y1="698.1" x2="175" y2="703.9" stroke-width="1.08"/>
<line x1="175" y1="806.4" x2="175" y2="811.6" stroke-width="1.08"/>
<line x1="226" y1="698.1" x2="226" y2="703.9" stroke-width="1.08"/>
<line x1="226" y1="806.4" x2="226" y2="811.6" stroke-width="1.08"/>
<line x1="230" y1="698.1" x2="230" y2="703.9" stroke-width="1.08"/>
<line x1="230" y1="806.4" x2="230" y2="811.6" stroke-width="1.08"/>
<line x1="234" y1="698.1" x2="234" y2="703.9" stroke-width="1.08"/>
<line x1="234" y1="806.4" x2="234" y2="811.6" stroke-width="1.08"/>
<line x1="154.4" y1="714" x2="159.6" y2="714" stroke-width="1.08"/>
<line x1="244.1" y1="714" x2="248.7" y2="714" stroke-width="1.08"/>
<line x1="154.4" y1="717" x2="159.6" y2="717" stroke-width="1.08"/>
<line x1="244.1" y1="717" x2="248.7" y2="717" stroke-width="1.08"/>
<line x1="154.4" y1="800" x2="159.6" y2="800" stroke-width="1.08"/>
<line x1="244.1" y1="800" x2="248.7" y2="800" stroke-width="1.08"/>
<line x1="154.4" y1="803" x2="159.6" y2="803" stroke-width="1.08"/>
<line x1="244.1" y1="803" x2="248.7" y2="803" stroke-width="1.08"/>
<line x1="182.2" y1="716.6" x2="227.9" y2="716.6" stroke-width="2.6"/>
<line x1="159.6" y1="724.2" x2="178" y2="724.2" stroke-width="2.4"/>
<line x1="226" y1="724.2" x2="244.1" y2="724.2" stroke-width="2.4"/>
<line x1="160" y1="732.8" x2="172" y2="732.8" stroke-width="2.4"/>
<line x1="233" y1="732.8" x2="244.1" y2="732.8" stroke-width="2.4"/>
<rect x="239" y="721" width="6" height="8" stroke-width="1.2" fill="none" rx="0"/>
<line x1="159.6" y1="806.4" x2="178" y2="790" stroke-width="1.32"/>
<line x1="244.1" y1="806.4" x2="226" y2="790" stroke-width="1.32"/>
<line x1="163" y1="800" x2="242" y2="800" stroke-width="1.2"/>
<circle cx="202.4" cy="764.7" r="44" stroke-width="1.3" fill="none"/>
<circle cx="202.4" cy="764.7" r="42" stroke-width="1.0" fill="none"/>
<path d="M241.7,764.7 L241.6,765.7 L241.4,766.7 L241,767.7 L240.4,768.7 L239.7,769.6 L239,770.5 L238.1,771.3 L237.3,772.1 L236.4,772.9 L235.6,773.6 L234.8,774.3 L234.1,775 L233.5,775.7 L233,776.4 L232.6,777.2 L232.3,778 L232.2,778.9 L232.1,779.8 L232.1,780.8 L232.1,781.9 L232.2,783 L232.3,784.1 L232.4,785.3 L232.3,786.5 L232.3,787.6 L232.1,788.7 L231.8,789.8 L231.4,790.8 L230.9,791.7 L230.2,792.5 L229.4,793.2 L228.5,793.7 L227.5,794.1 L226.4,794.4 L225.3,794.6 L224.2,794.6 L223,794.7 L221.8,794.6 L220.7,794.5 L219.6,794.4 L218.5,794.4 L217.5,794.4 L216.6,794.5 L215.7,794.6 L214.9,794.9 L214.1,795.3 L213.4,795.8 L212.7,796.4 L212,797.1 L211.3,797.9 L210.6,798.7 L209.8,799.6 L209,800.4 L208.2,801.3 L207.3,802 L206.4,802.7 L205.4,803.3 L204.4,803.7 L203.4,803.9 L202.4,804 L201.4,803.9 L200.4,803.7 L199.4,803.3 L198.4,802.7 L197.5,802 L196.6,801.3 L195.8,800.4 L195,799.6 L194.2,798.7 L193.5,797.9 L192.8,797.1 L192.1,796.4 L191.4,795.8 L190.7,795.3 L189.9,794.9 L189.1,794.6 L188.2,794.5 L187.3,794.4 L186.3,794.4 L185.2,794.4 L184.1,794.5 L183,794.6 L181.8,794.7 L180.6,794.6 L179.5,794.6 L178.4,794.4 L177.3,794.1 L176.3,793.7 L175.4,793.2 L174.6,792.5 L173.9,791.7 L173.4,790.8 L173,789.8 L172.7,788.7 L172.5,787.6 L172.5,786.5 L172.4,785.3 L172.5,784.1 L172.6,783 L172.7,781.9 L172.7,780.8 L172.7,779.8 L172.6,778.9 L172.5,778 L172.2,777.2 L171.8,776.4 L171.3,775.7 L170.7,775 L170,774.3 L169.2,773.6 L168.4,772.9 L167.5,772.1 L166.7,771.3 L165.8,770.5 L165.1,769.6 L164.4,768.7 L163.8,767.7 L163.4,766.7 L163.2,765.7 L163.1,764.7 L163.2,763.7 L163.4,762.7 L163.8,761.7 L164.4,760.7 L165.1,759.8 L165.8,758.9 L166.7,758.1 L167.5,757.3 L168.4,756.5 L169.2,755.8 L170,755.1 L170.7,754.4 L171.3,753.7 L171.8,753 L172.2,752.2 L172.5,751.4 L172.6,750.5 L172.7,749.6 L172.7,748.6 L172.7,747.5 L172.6,746.4 L172.5,745.3 L172.4,744.1 L172.5,742.9 L172.5,741.8 L172.7,740.7 L173,739.6 L173.4,738.6 L173.9,737.7 L174.6,736.9 L175.4,736.2 L176.3,735.7 L177.3,735.3 L178.4,735 L179.5,734.8 L180.6,734.8 L181.8,734.7 L183,734.8 L184.1,734.9 L185.2,735 L186.3,735 L187.3,735 L188.2,734.9 L189.1,734.8 L189.9,734.5 L190.7,734.1 L191.4,733.6 L192.1,733 L192.8,732.3 L193.5,731.5 L194.2,730.7 L195,729.8 L195.8,729 L196.6,728.1 L197.5,727.4 L198.4,726.7 L199.4,726.1 L200.4,725.7 L201.4,725.5 L202.4,725.4 L203.4,725.5 L204.4,725.7 L205.4,726.1 L206.4,726.7 L207.3,727.4 L208.2,728.1 L209,729 L209.8,729.8 L210.6,730.7 L211.3,731.5 L212,732.3 L212.7,733 L213.4,733.6 L214.1,734.1 L214.9,734.5 L215.7,734.8 L216.6,734.9 L217.5,735 L218.5,735 L219.6,735 L220.7,734.9 L221.8,734.8 L223,734.7 L224.2,734.8 L225.3,734.8 L226.4,735 L227.5,735.3 L228.5,735.7 L229.4,736.2 L230.2,736.9 L230.9,737.7 L231.4,738.6 L231.8,739.6 L232.1,740.7 L232.3,741.8 L232.3,742.9 L232.4,744.1 L232.3,745.3 L232.2,746.4 L232.1,747.5 L232.1,748.6 L232.1,749.6 L232.2,750.5 L232.3,751.4 L232.6,752.2 L233,753 L233.5,753.7 L234.1,754.4 L234.8,755.1 L235.6,755.8 L236.4,756.5 L237.3,757.3 L238.1,758.1 L239,758.9 L239.7,759.8 L240.4,760.7 L241,761.7 L241.4,762.7 L241.6,763.7 L241.7,764.7Z" stroke-width="1.4" fill="none"/>
<circle cx="202.4" cy="764.7" r="27.2" stroke-width="1.5" fill="none"/>
<circle cx="202.4" cy="764.7" r="24.9" stroke-width="1.1" fill="none"/>
<circle cx="202.4" cy="764.7" r="16.2" stroke-width="1.5" fill="none"/>
<path d="M198.4,756.2 L198.4,752.5 L205.9,752.5 L205.9,756.2 A9.8,9.8 0 1 1 198.4,756.2 Z" stroke-width="1.5" fill="none"/>
<circle cx="226.7" cy="789" r="2.8" stroke-width="1.625" fill="#888"/>
<line x1="223.9" y1="789" x2="229.5" y2="789" stroke-width="0.96"/>
<line x1="226.7" y1="786.2" x2="226.7" y2="791.8" stroke-width="0.96"/>
<circle cx="178.1" cy="789" r="2.8" stroke-width="1.625" fill="#888"/>
<line x1="175.3" y1="789" x2="180.9" y2="789" stroke-width="0.96"/>
<line x1="178.1" y1="786.2" x2="178.1" y2="791.8" stroke-width="0.96"/>
<circle cx="178.1" cy="740.4" r="2.8" stroke-width="1.625" fill="#888"/>
<line x1="175.3" y1="740.4" x2="180.9" y2="740.4" stroke-width="0.96"/>
<line x1="178.1" y1="737.6" x2="178.1" y2="743.2" stroke-width="0.96"/>
<circle cx="226.7" cy="740.4" r="2.8" stroke-width="1.625" fill="#888"/>
<line x1="223.9" y1="740.4" x2="229.5" y2="740.4" stroke-width="0.96"/>
<line x1="226.7" y1="737.6" x2="226.7" y2="743.2" stroke-width="0.96"/>
<line x1="202.4" y1="676" x2="202.4" y2="850" stroke-width="1.08" stroke-dasharray="14,2,2,2"/>
<line x1="146" y1="764.7" x2="258" y2="764.7" stroke-width="1.08" stroke-dasharray="14,2,2,2"/>
<line x1="170.9" y1="740.2" x2="92.4" y2="818.7" stroke-width="1.2"/>
<line x1="151.7" y1="767.7" x2="110.7" y2="808.8" stroke-width="1.2"/>
<line x1="200.7" y1="822.4" x2="148.4" y2="874.7" stroke-width="1.2"/>
<line x1="196.5" y1="818.2" x2="158.3" y2="856.4" stroke-width="1.2"/>
<line x1="96.3" y1="814.8" x2="152.3" y2="870.8" stroke-width="1.2"/>
<polygon points="96.3,814.8 103.2,819.3 100.7,821.7" fill="#000" stroke="none"/>
<polygon points="152.3,870.8 145.4,866.4 147.8,863.9" fill="#000" stroke="none"/>
<line x1="114" y1="805.4" x2="161.7" y2="853.1" stroke-width="1.2"/>
<polygon points="114,805.4 120.9,809.8 118.4,812.3" fill="#000" stroke="none"/>
<polygon points="161.7,853.1 154.8,848.7 157.3,846.2" fill="#000" stroke="none"/>
<text transform="translate(131,834.7) rotate(45)" x="0" y="5.4" font-size="15" text-anchor="middle">Ø100</text>
<text transform="translate(145.5,821.6) rotate(45)" x="0" y="5.4" font-size="15" text-anchor="middle">Ø85</text>
<line x1="248.7" y1="811.6" x2="263.4" y2="825" stroke-width="1.2"/>
<path d="M202.6,843 Q210,842.5 218,840.5" stroke-width="1.0" fill="none"/>
<path d="M244,833 Q252,830 259,821" stroke-width="1.0" fill="none"/>
<polygon points="202.6,843 210.5,840.9 210.7,844.3" fill="#000" stroke="none"/>
<polygon points="259,821 255.1,828.2 252.5,825.9" fill="#000" stroke="none"/>
<text x="231" y="843.5" font-size="15" text-anchor="middle" font-weight="normal">45°</text>
<line x1="154.4" y1="625.3" x2="154.4" y2="698.1" stroke-width="1.2"/>
<line x1="169.8" y1="667" x2="169.8" y2="704" stroke-width="1.08"/>
<line x1="233.6" y1="667" x2="233.6" y2="704" stroke-width="1.08"/>
<line x1="169.8" y1="673.5" x2="233.6" y2="673.5" stroke-width="1.2"/>
<polygon points="169.8,673.5 177.8,671.8 177.8,675.2" fill="#000" stroke="none"/>
<polygon points="233.6,673.5 225.6,675.2 225.6,671.8" fill="#000" stroke="none"/>
<text x="201.4" y="668.7" font-size="15" text-anchor="middle" font-weight="normal">80</text>
<line x1="130" y1="698.1" x2="154.4" y2="698.1" stroke-width="1.08"/>
<line x1="130" y1="703.9" x2="154.4" y2="703.9" stroke-width="1.08"/>
<line x1="137" y1="673" x2="137" y2="698.1" stroke-width="1.08"/>
<polygon points="137,698.1 135.2,690.1 138.8,690.1" fill="#000" stroke="none"/>
<line x1="137" y1="703.9" x2="137" y2="723" stroke-width="1.08"/>
<polygon points="137,703.9 138.8,711.9 135.2,711.9" fill="#000" stroke="none"/>
<text transform="translate(127.9,676.6) rotate(-90)" x="0" y="5.4" font-size="15" text-anchor="middle">7</text>
<text x="132.6" y="728.7" font-size="15" text-anchor="end" font-weight="normal">M8x10</text>
<line x1="88" y1="733.5" x2="150" y2="734.2" stroke-width="1.08"/>
<line x1="150" y1="734.2" x2="202" y2="745.3" stroke-width="1.08"/>
<polyline points="250,753 258,771.3 266.6,771.3 266.6,777.7 276,777.7 276,782.4 280,782.4 284.8,806.9 299,814.8 299,828.2 307.7,828.2 307.7,699.5 302,699.5 300.6,688.5 280,688.5 280,670.6 265.3,670.6 265.3,677.4 257.9,677.4 249.5,694.8 249.5,753" stroke-width="2.6" fill="none"/>
<line x1="258" y1="677.4" x2="258" y2="771.3" stroke-width="1.2"/>
<line x1="265.3" y1="677.4" x2="265.3" y2="777.7" stroke-width="1.2"/>
<line x1="274" y1="670.6" x2="274" y2="777.7" stroke-width="1.2"/>
<line x1="280" y1="688.5" x2="280" y2="782.4" stroke-width="1.2"/>
<line x1="299" y1="699.5" x2="299" y2="814.8" stroke-width="1.2"/>
<line x1="303" y1="699.5" x2="303" y2="826" stroke-width="1.08"/>
<line x1="252.5" y1="694.8" x2="252.5" y2="753" stroke-width="1.08"/>
<polyline points="303,708 299,708 299,716 296,716 296,730 299,730 299,736" stroke-width="1.0" fill="none"/>
<line x1="281" y1="741" x2="299" y2="741" stroke-width="2.0"/>
<line x1="240" y1="724" x2="334.5" y2="724" stroke-width="1.08"/>
<line x1="320" y1="764.2" x2="334.5" y2="764.2" stroke-width="1.2"/>
<line x1="328.2" y1="724" x2="328.2" y2="764.2" stroke-width="1.2"/>
<polygon points="328.2,724 329.9,732 326.4,732" fill="#000" stroke="none"/>
<polygon points="328.2,764.2 326.4,756.2 329.9,756.2" fill="#000" stroke="none"/>
<text transform="translate(318.7,745.3) rotate(-90)" x="0" y="5.4" font-size="15" text-anchor="middle">48</text>
<line x1="306.9" y1="625" x2="306.9" y2="699.5" stroke-width="1.2"/>
<line x1="154.4" y1="632" x2="306.9" y2="632" stroke-width="1.2"/>
<polygon points="154.4,632 162.4,630.2 162.4,633.8" fill="#000" stroke="none"/>
<polygon points="306.9,632 298.9,633.8 298.9,630.2" fill="#000" stroke="none"/>
<text x="232" y="626.9" font-size="15" text-anchor="middle" font-weight="normal">193</text>
<line x1="265.3" y1="646" x2="265.3" y2="670.6" stroke-width="1.2"/>
<line x1="154.4" y1="652.9" x2="265.3" y2="652.9" stroke-width="1.2"/>
<polygon points="154.4,652.9 162.4,651.1 162.4,654.6" fill="#000" stroke="none"/>
<polygon points="265.3,652.9 257.3,654.6 257.3,651.1" fill="#000" stroke="none"/>
<text x="209.3" y="648.2" font-size="15" text-anchor="middle" font-weight="normal">140</text>
<line x1="308" y1="699.8" x2="362" y2="699.8" stroke-width="1.2"/>
<line x1="308" y1="828.2" x2="362" y2="828.2" stroke-width="1.2"/>
<line x1="355.8" y1="699.8" x2="355.8" y2="828.2" stroke-width="1.2"/>
<polygon points="355.8,699.8 357.6,707.8 354.1,707.8" fill="#000" stroke="none"/>
<polygon points="355.8,828.2 354.1,820.2 357.6,820.2" fill="#000" stroke="none"/>
<text transform="translate(346.4,764.2) rotate(-90)" x="0" y="5.4" font-size="15" text-anchor="middle">Ø160</text>
<rect x="430.8" y="729" width="15.4" height="9" fill="url(#h2)" stroke="none"/>
<rect x="430.8" y="788.7" width="15.4" height="9" fill="url(#h2)" stroke="none"/>
<rect x="430.8" y="729" width="15.4" height="68.7" stroke-width="2.6" fill="none" rx="1.5"/>
<line x1="432.8" y1="738" x2="432.8" y2="744.8" stroke-width="2.2"/>
<line x1="444.2" y1="738" x2="444.2" y2="744.8" stroke-width="2.2"/>
<line x1="432.8" y1="782.7" x2="432.8" y2="788.7" stroke-width="2.2"/>
<line x1="444.2" y1="782.7" x2="444.2" y2="788.7" stroke-width="2.2"/>
<rect x="402" y="747.2" width="73" height="33.1" fill="url(#h1)" stroke="none"/>
<rect x="422.7" y="744.8" width="31.6" height="37.9" fill="url(#h1)" stroke="none"/>
<rect x="402" y="752.7" width="73" height="21.3" stroke-width="0" fill="#fff" rx="0" stroke="none"/>
<polygon points="422.7,747.2 402,747.2 402,780.3 422.7,780.3 422.7,782.7 454.3,782.7 454.3,780.3 475,780.3 475,747.2 454.3,747.2 454.3,744.8 422.7,744.8" stroke-width="2.6" fill="none"/>
<line x1="404" y1="752.7" x2="473" y2="752.7" stroke-width="1.2"/>
<line x1="404" y1="774" x2="473" y2="774" stroke-width="1.2"/>
<line x1="404" y1="755.2" x2="427" y2="755.2" stroke-width="1.08"/>
<line x1="450" y1="755.2" x2="473" y2="755.2" stroke-width="1.08"/>
<rect x="427" y="750.3" width="23" height="26.1" stroke-width="2.4" fill="#fff" rx="0"/>
<line x1="429.3" y1="751.3" x2="429.3" y2="775.4" stroke-width="1.2"/>
<line x1="447.7" y1="751.3" x2="447.7" y2="775.4" stroke-width="1.2"/>
<path d="M433.5,752.3 L444.5,739 L440,739 L431.5,748.3" stroke-width="1.3" fill="none"/>
<path d="M433.5,787.7 L444.5,777.4 L440,776.4 L431.5,784.7" stroke-width="1.3" fill="none"/>
<line x1="385" y1="763.4" x2="492" y2="763.4" stroke-width="1.08" stroke-dasharray="12,2,2,2"/>
<line x1="438.5" y1="722" x2="438.5" y2="803.7" stroke-width="1.08" stroke-dasharray="12,2,2,2"/>
<line x1="402" y1="671.9" x2="402" y2="747.2" stroke-width="1.2"/>
<line x1="475" y1="671.9" x2="475" y2="747.2" stroke-width="1.2"/>
<line x1="402" y1="678.9" x2="475" y2="678.9" stroke-width="1.2"/>
<polygon points="402,678.9 410,677.1 410,680.6" fill="#000" stroke="none"/>
<polygon points="475,678.9 467,680.6 467,677.1" fill="#000" stroke="none"/>
<text x="438.5" y="674.4" font-size="15" text-anchor="middle" font-weight="normal">92</text>
<line x1="425.5" y1="691.9" x2="425.5" y2="744.8" stroke-width="1.2"/>
<line x1="451" y1="691.9" x2="451" y2="744.8" stroke-width="1.2"/>
<line x1="381" y1="699.4" x2="496" y2="699.4" stroke-width="1.2"/>
<polygon points="402,699.4 394,701.1 394,697.6" fill="#000" stroke="none"/>
<polygon points="425.5,699.4 433.5,697.6 433.5,701.1" fill="#000" stroke="none"/>
<polygon points="451,699.4 443,701.1 443,697.6" fill="#000" stroke="none"/>
<polygon points="475,699.4 483,697.6 483,701.1" fill="#000" stroke="none"/>
<text x="414.8" y="694.8" font-size="15" text-anchor="middle" font-weight="normal">30</text>
<text x="463.5" y="694.8" font-size="15" text-anchor="middle" font-weight="normal">30</text>
<line x1="381" y1="773" x2="402" y2="773" stroke-width="1.2"/>
<line x1="386.7" y1="716" x2="386.7" y2="773" stroke-width="1.2"/>
<polygon points="386.7,773 384.9,765 388.4,765" fill="#000" stroke="none"/>
<text transform="translate(378.8,743.2) rotate(-90)" x="0" y="5.4" font-size="15" text-anchor="middle">Ø25H8</text>
<circle cx="527.9" cy="763.1" r="16.4" stroke-width="2.6" fill="none"/>
<path d="M524.5,753.7 L524.5,750.7 L530.2,750.7 L530.2,753.7 A9.8,9.8 0 1 1 524.5,753.7" stroke-width="1.3" fill="none"/>
<line x1="524.5" y1="671.8" x2="524.5" y2="750.7" stroke-width="1.2"/>
<line x1="530.2" y1="671.8" x2="530.2" y2="750.7" stroke-width="1.2"/>
<line x1="501.4" y1="763.1" x2="552.6" y2="763.1" stroke-width="1.08" stroke-dasharray="12,2,2,2"/>
<line x1="527.9" y1="747.1" x2="527.9" y2="791.1" stroke-width="1.08" stroke-dasharray="12,2,2,2"/>
<line x1="496.9" y1="678.1" x2="524.5" y2="678.1" stroke-width="1.2"/>
<line x1="530.2" y1="678.1" x2="555.5" y2="678.1" stroke-width="1.2"/>
<polygon points="524.5,678.1 516.5,679.9 516.5,676.4" fill="#000" stroke="none"/>
<polygon points="530.2,678.1 538.2,676.4 538.2,679.9" fill="#000" stroke="none"/>
<text x="550.9" y="672.9" font-size="15" text-anchor="middle" font-weight="normal">8</text>
<line x1="538.3" y1="749.9" x2="564.9" y2="749.9" stroke-width="1.2"/>
<line x1="529.9" y1="772.8" x2="564.9" y2="772.8" stroke-width="1.2"/>
<line x1="558.9" y1="702.2" x2="558.9" y2="749.9" stroke-width="1.2"/>
<polygon points="558.9,749.9 557.1,741.9 560.6,741.9" fill="#000" stroke="none"/>
<line x1="558.9" y1="772.8" x2="558.9" y2="793" stroke-width="1.2"/>
<polygon points="558.9,772.8 560.6,780.8 557.1,780.8" fill="#000" stroke="none"/>
<text transform="translate(549.7,717.7) rotate(-90)" x="0" y="5.4" font-size="15" text-anchor="middle">28.3</text>
<clipPath id="cf2b"><path d="M0,0 H950 V1307 H0 Z M730.7,695 V808.5 H799.8 V695 Z" clip-rule="evenodd"/></clipPath>
<clipPath id="cf21"><path d="M0,0 H950 V1307 H0 Z M702.7,760.8 a63.9,63.9 0 1,0 127.8,0 a63.9,63.9 0 1,0 -127.8,0 Z" clip-rule="evenodd"/></clipPath>
<clipPath id="cf22"><path d="M0,0 H950 V1307 H0 Z M711,721.2 a54.3,54.3 0 1,0 108.6,0 a54.3,54.3 0 1,0 -108.6,0 Z" clip-rule="evenodd"/></clipPath>
<g clip-path="url(#cf2b)">
<g clip-path="url(#cf21)">
<circle cx="765.3" cy="721.2" r="54.3" stroke-width="2.6" fill="none"/>
</g>
<g clip-path="url(#cf22)">
<circle cx="766.6" cy="760.8" r="63.9" stroke-width="2.6" fill="none"/>
</g>
</g>
<path d="M750,695 Q765.8,686 781,695" stroke-width="1.2" fill="none"/>
<line x1="730.7" y1="695" x2="730.7" y2="808.5" stroke-width="2.6"/>
<line x1="799.8" y1="695" x2="799.8" y2="808.5" stroke-width="2.6"/>
<line x1="730.7" y1="695" x2="799.8" y2="695" stroke-width="1.6"/>
<polyline points="730.7,720.2 744.6,720.2 744.6,695" stroke-width="2.2" fill="none"/>
<rect x="734.7" y="697.5" width="7" height="6.5" stroke-width="1.2" fill="none" rx="0"/>
<line x1="738.2" y1="697.5" x2="738.2" y2="704" stroke-width="0.96"/>
<circle cx="737.3" cy="710.5" r="3.2" stroke-width="1.5" fill="#888"/>
<line x1="734.1" y1="710.5" x2="740.5" y2="710.5" stroke-width="0.96"/>
<line x1="737.3" y1="707.3" x2="737.3" y2="713.7" stroke-width="0.96"/>
<polyline points="786.4,720.2 800.3,720.2 800.3,695" stroke-width="2.2" fill="none"/>
<rect x="790.4" y="697.5" width="7" height="6.5" stroke-width="1.2" fill="none" rx="0"/>
<line x1="793.9" y1="697.5" x2="793.9" y2="704" stroke-width="0.96"/>
<circle cx="793" cy="710.5" r="3.2" stroke-width="1.5" fill="#888"/>
<line x1="789.8" y1="710.5" x2="796.2" y2="710.5" stroke-width="0.96"/>
<line x1="793" y1="707.3" x2="793" y2="713.7" stroke-width="0.96"/>
<polyline points="730.7,785.5 745,785.5 745,808.5" stroke-width="2.2" fill="none"/>
<path d="M740.7,790 L735.7,790 Q732.7,794 735.7,798 L740.7,798" stroke-width="1.3" fill="none"/>
<rect x="734.7" y="800" width="7" height="6" stroke-width="1.2" fill="none" rx="0"/>
<polyline points="786.4,785.5 800.7,785.5 800.7,808.5" stroke-width="2.2" fill="none"/>
<path d="M796.4,790 L791.4,790 Q788.4,794 791.4,798 L796.4,798" stroke-width="1.3" fill="none"/>
<rect x="790.4" y="800" width="7" height="6" stroke-width="1.2" fill="none" rx="0"/>
<line x1="736.6" y1="720.2" x2="736.6" y2="785.5" stroke-width="1.32"/>
<line x1="743" y1="720.2" x2="743" y2="785.5" stroke-width="1.4"/>
<line x1="788.5" y1="720.2" x2="788.5" y2="785.5" stroke-width="1.4"/>
<line x1="795" y1="720.2" x2="795" y2="785.5" stroke-width="1.32"/>
<rect x="788.5" y="721" width="6.5" height="30" stroke-width="1.0" fill="none" rx="0"/>
<line x1="801.4" y1="740" x2="801.4" y2="790" stroke-width="2.6"/>
<line x1="733.5" y1="722" x2="733.5" y2="784" stroke-width="1.2" stroke-dasharray="3,2"/>
<rect x="737" y="758" width="5" height="8" stroke-width="1.0" fill="none" rx="0"/>
<rect x="743" y="757" width="5" height="9" stroke-width="1.0" fill="none" rx="0"/>
<path d="M743.4,704.6 A5,5 0 0 1 748.4,699.6 Q765.5,703 782.7,699.6 A5,5 0 0 1 787.7,704.6 Q784.5,721.7 787.7,738.9 A5,5 0 0 1 782.7,743.9 Q765.5,740.5 748.4,743.9 A5,5 0 0 1 743.4,738.9 Q746.6,721.7 743.4,704.6 Z" stroke-width="1.4" fill="none"/>
<circle cx="748.4" cy="704.6" r="2.3" stroke-width="1.2" fill="none"/>
<circle cx="748.4" cy="738.9" r="2.3" stroke-width="1.2" fill="none"/>
<circle cx="782.7" cy="704.6" r="2.3" stroke-width="1.2" fill="none"/>
<circle cx="782.7" cy="738.9" r="2.3" stroke-width="1.2" fill="none"/>
<circle cx="766" cy="721.2" r="19" stroke-width="3.0" fill="none"/>
<rect x="750.5" y="747" width="30.5" height="24" stroke-width="1.5" fill="none" rx="0"/>
<line x1="750.5" y1="771" x2="750.5" y2="806" stroke-width="2.0"/>
<line x1="758" y1="771" x2="758" y2="806" stroke-width="2.6"/>
<line x1="766" y1="771" x2="766" y2="806" stroke-width="3.2"/>
<line x1="774.1" y1="771" x2="774.1" y2="806" stroke-width="2.6"/>
<line x1="782.1" y1="771" x2="782.1" y2="806" stroke-width="2.0"/>
<path d="M747,775 Q745,790 746,807" stroke-width="1.0" fill="none"/>
<path d="M785,775 Q787,790 786,807" stroke-width="1.0" fill="none"/>
<line x1="765.8" y1="675" x2="765.8" y2="815" stroke-width="1.08" stroke-dasharray="12,2,2,2"/>
<line x1="700" y1="721.2" x2="820" y2="721.2" stroke-width="1.08" stroke-dasharray="12,2,2,2"/>
<line x1="593.2" y1="668.7" x2="766" y2="668.7" stroke-width="1.2"/>
<line x1="600.7" y1="668.7" x2="600.7" y2="810" stroke-width="1.2"/>
<polygon points="600.7,668.7 602.5,676.7 599,676.7" fill="#000" stroke="none"/>
<polygon points="600.7,810 599,802 602.5,802" fill="#000" stroke="none"/>
<text transform="translate(592.6,739) rotate(-90)" x="0" y="5.4" font-size="15" text-anchor="middle">177.5</text>
<line x1="616.9" y1="695.6" x2="730.7" y2="695.6" stroke-width="1.2"/>
<line x1="624.8" y1="695.6" x2="624.8" y2="810" stroke-width="1.2"/>
<polygon points="624.8,695.6 626.5,703.6 623,703.6" fill="#000" stroke="none"/>
<polygon points="624.8,810 623,802 626.5,802" fill="#000" stroke="none"/>
<text transform="translate(616.3,753.2) rotate(-90)" x="0" y="5.4" font-size="15" text-anchor="middle">144</text>
<line x1="647.2" y1="695.6" x2="647.2" y2="762.6" stroke-width="1.2"/>
<polygon points="647.2,695.6 649,703.6 645.5,703.6" fill="#000" stroke="none"/>
<polygon points="647.2,762.6 645.5,754.6 649,754.6" fill="#000" stroke="none"/>
<text transform="translate(638.4,728.7) rotate(-90)" x="0" y="5.4" font-size="15" text-anchor="middle">84</text>
<line x1="661.9" y1="711.4" x2="730.7" y2="711.4" stroke-width="1.2"/>
<line x1="668.2" y1="711.4" x2="668.2" y2="762.6" stroke-width="1.2"/>
<polygon points="668.2,711.4 670,719.4 666.5,719.4" fill="#000" stroke="none"/>
<polygon points="668.2,762.6 666.5,754.6 670,754.6" fill="#000" stroke="none"/>
<text transform="translate(659.7,736.6) rotate(-90)" x="0" y="5.4" font-size="15" text-anchor="middle">64</text>
<line x1="683.2" y1="722.1" x2="738.7" y2="722.1" stroke-width="1.2"/>
<line x1="689.5" y1="722.1" x2="689.5" y2="762.6" stroke-width="1.2"/>
<polygon points="689.5,722.1 691.2,730.1 687.8,730.1" fill="#000" stroke="none"/>
<polygon points="689.5,762.6 687.8,754.6 691.2,754.6" fill="#000" stroke="none"/>
<text transform="translate(681,742) rotate(-90)" x="0" y="5.4" font-size="15" text-anchor="middle">50</text>
<line x1="640.6" y1="762.6" x2="730.7" y2="762.6" stroke-width="1.2"/>
<line x1="730.7" y1="762.6" x2="835" y2="762.6" stroke-width="1.08" stroke-dasharray="12,2,2,2"/>
<line x1="647.2" y1="762.6" x2="647.2" y2="810" stroke-width="1.2"/>
<polygon points="647.2,762.6 649,770.6 645.5,770.6" fill="#000" stroke="none"/>
<polygon points="647.2,810 645.5,802 649,802" fill="#000" stroke="none"/>
<text transform="translate(638.4,786.3) rotate(-90)" x="0" y="5.4" font-size="15" text-anchor="middle">60</text>
<line x1="661.9" y1="794.5" x2="730.7" y2="794.5" stroke-width="1.2"/>
<line x1="668.2" y1="762.6" x2="668.2" y2="794.5" stroke-width="1.2"/>
<polygon points="668.2,762.6 670,770.6 666.5,770.6" fill="#000" stroke="none"/>
<polygon points="668.2,794.5 666.5,786.5 670,786.5" fill="#000" stroke="none"/>
<text transform="translate(659.7,778.5) rotate(-90)" x="0" y="5.4" font-size="15" text-anchor="middle">40</text>
<line x1="594.7" y1="810" x2="730.7" y2="810" stroke-width="1.2"/>
<line x1="683.2" y1="790.9" x2="730.7" y2="790.9" stroke-width="1.2"/>
<line x1="683.2" y1="797.7" x2="730.7" y2="797.7" stroke-width="1.2"/>
<line x1="689.8" y1="770" x2="689.8" y2="790.9" stroke-width="1.2"/>
<polygon points="689.8,790.9 688,782.9 691.5,782.9" fill="#000" stroke="none"/>
<line x1="689.8" y1="797.7" x2="689.8" y2="836.4" stroke-width="1.2"/>
<polygon points="689.8,797.7 691.5,805.7 688,805.7" fill="#000" stroke="none"/>
<text transform="translate(681,825) rotate(-90)" x="0" y="5.4" font-size="15" text-anchor="middle">8.5</text>
<line x1="728.7" y1="622" x2="728.7" y2="695" stroke-width="1.2"/>
<line x1="802.1" y1="622" x2="802.1" y2="740" stroke-width="1.2"/>
<line x1="728.7" y1="628.9" x2="802.1" y2="628.9" stroke-width="1.2"/>
<polygon points="728.7,628.9 736.7,627.1 736.7,630.6" fill="#000" stroke="none"/>
<polygon points="802.1,628.9 794.1,630.6 794.1,627.1" fill="#000" stroke="none"/>
<text x="765.8" y="624.5" font-size="15" text-anchor="middle" font-weight="normal">92</text>
<line x1="730.3" y1="644" x2="730.3" y2="695" stroke-width="1.2"/>
<line x1="799.8" y1="644" x2="799.8" y2="695" stroke-width="1.2"/>
<line x1="730.3" y1="650.2" x2="799.8" y2="650.2" stroke-width="1.2"/>
<polygon points="730.3,650.2 738.3,648.5 738.3,652" fill="#000" stroke="none"/>
<polygon points="799.8,650.2 791.8,652 791.8,648.5" fill="#000" stroke="none"/>
<text x="765.8" y="645" font-size="15" text-anchor="middle" font-weight="normal">87</text>
<line x1="747" y1="808.5" x2="747" y2="858.2" stroke-width="1.2"/>
<line x1="786.3" y1="808.5" x2="786.3" y2="858.2" stroke-width="1.2"/>
<line x1="747" y1="853.2" x2="786.3" y2="853.2" stroke-width="1.2"/>
<polygon points="747,853.2 755,851.5 755,855" fill="#000" stroke="none"/>
<polygon points="786.3,853.2 778.3,855 778.3,851.5" fill="#000" stroke="none"/>
<text x="765.8" y="848.7" font-size="15" text-anchor="middle" font-weight="normal">49</text>
<line x1="739" y1="808.5" x2="739" y2="880.7" stroke-width="1.2"/>
<line x1="794.7" y1="808.5" x2="794.7" y2="880.7" stroke-width="1.2"/>
<line x1="739" y1="875.7" x2="794.7" y2="875.7" stroke-width="1.2"/>
<polygon points="739,875.7 747,874 747,877.5" fill="#000" stroke="none"/>
<polygon points="794.7,875.7 786.7,877.5 786.7,874" fill="#000" stroke="none"/>
<text x="765.8" y="871.2" font-size="15" text-anchor="middle" font-weight="normal">70</text>
<line x1="732.6" y1="808.5" x2="732.6" y2="905" stroke-width="1.2"/>
<line x1="801" y1="808.5" x2="801" y2="905" stroke-width="1.2"/>
<line x1="732.6" y1="900" x2="801" y2="900" stroke-width="1.2"/>
<polygon points="732.6,900 740.6,898.2 740.6,901.8" fill="#000" stroke="none"/>
<polygon points="801,900 793,901.8 793,898.2" fill="#000" stroke="none"/>
<text x="765.8" y="895.5" font-size="15" text-anchor="middle" font-weight="normal">80</text>
<line x1="805" y1="733.2" x2="865" y2="733.2" stroke-width="1.2"/>
<line x1="805" y1="789" x2="865" y2="789" stroke-width="1.2"/>
<line x1="857.9" y1="733.2" x2="857.9" y2="789" stroke-width="1.2"/>
<polygon points="857.9,733.2 859.6,741.2 856.1,741.2" fill="#000" stroke="none"/>
<polygon points="857.9,789 856.1,781 859.6,781" fill="#000" stroke="none"/>
<text transform="translate(848.4,761.6) rotate(-90)" x="0" y="5.4" font-size="15" text-anchor="middle">Ø70h8</text>
</svg></body></html>
